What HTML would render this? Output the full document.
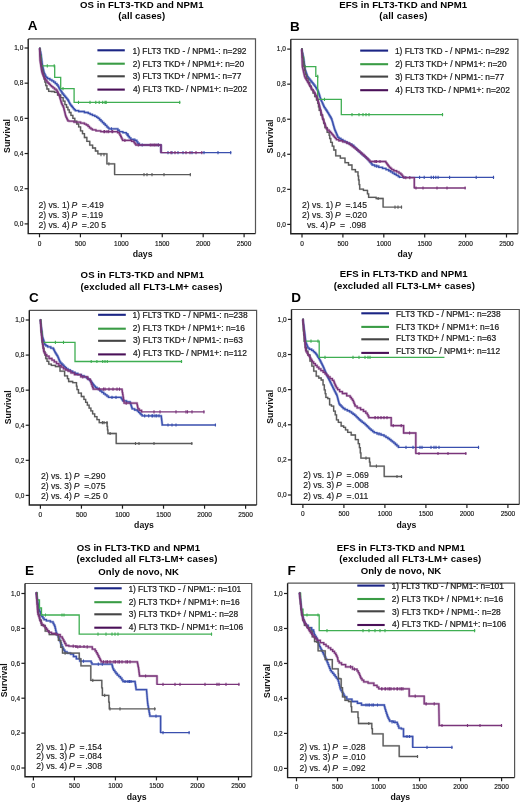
<!DOCTYPE html><html><head><meta charset="utf-8"><style>html,body{margin:0;padding:0;background:#fff;}svg{display:block;will-change:transform;}</style></head><body>
<svg width="520" height="803" viewBox="0 0 520 803" font-family='&quot;Liberation Sans&quot;, sans-serif'>
<rect width="520" height="803" fill="#fff"/>
<g><path d="M39.6 48.5 L39.8 48.5 L39.8 49.2 L40 49.2 L40.12 49.2 L40.12 50.46 L40.36 50.46 L40.36 51.72 L40.6 51.72 L40.6 52.98 L40.84 52.98 L40.84 54.24 L41.08 54.24 L41.08 55.5 L41.2 55.5 L41.27 55.5 L41.27 56.66 L41.41 56.66 L41.41 57.83 L41.54 57.83 L41.54 58.99 L41.68 58.99 L41.68 60.15 L41.82 60.15 L41.82 61.31 L41.96 61.31 L41.96 62.47 L42.09 62.47 L42.09 63.64 L42.23 63.64 L42.23 64.8 L42.3 64.8 L42.43 64.8 L42.43 65.94 L42.69 65.94 L42.69 67.09 L42.94 67.09 L42.94 68.23 L43.2 68.23 L43.2 69.37 L43.46 69.37 L43.46 70.51 L43.71 70.51 L43.71 71.66 L43.97 71.66 L43.97 72.8 L44.1 72.8 L44.39 72.8 L44.39 73.97 L44.96 73.97 L44.96 75.15 L45.54 75.15 L45.54 76.33 L46.11 76.33 L46.11 77.5 L46.4 77.5 L47.55 77.5 L47.55 78.65 L49.85 78.65 L49.85 79.8 L51 79.8 L51.88 79.8 L51.88 80.95 L53.62 80.95 L53.62 82.1 L54.5 82.1 L55.3 82.1 L55.3 83.55 L56.9 83.55 L56.9 85 L57.7 85 L58.05 85 L58.05 86.4 L58.75 86.4 L58.75 87.8 L59.1 87.8 L59.5 87.8 L59.5 89.1 L60.3 89.1 L60.3 90.4 L61.1 90.4 L61.1 91.7 L61.9 91.7 L61.9 93 L62.3 93 L62.78 93 L62.78 94.17 L63.75 94.17 L63.75 95.33 L64.72 95.33 L64.72 96.5 L65.68 96.5 L65.68 97.67 L66.65 97.67 L66.65 98.83 L67.62 98.83 L67.62 100 L68.1 100 L68.42 100 L68.42 101.27 L69.05 101.27 L69.05 102.53 L69.68 102.53 L69.68 103.8 L70 103.8 L70.47 103.8 L70.47 105.03 L71.42 105.03 L71.42 106.25 L72.38 106.25 L72.38 107.47 L73.33 107.47 L73.33 108.7 L73.8 108.7 L74.3 108.7 L74.3 109.65 L75.3 109.65 L75.3 110.6 L75.8 110.6 L78.65 110.6 L78.65 111.5 L81.5 111.5 L84.4 111.5 L84.4 112.5 L87.3 112.5 L88.28 112.5 L88.28 113.45 L90.22 113.45 L90.22 114.4 L91.2 114.4 L92.4 114.4 L92.4 115.35 L94.8 115.35 L94.8 116.3 L96 116.3 L96.7 116.3 L96.7 117.3 L98.1 117.3 L98.1 118.3 L98.8 118.3 L99.53 118.3 L99.53 119.75 L100.97 119.75 L100.97 121.2 L101.7 121.2 L102.42 121.2 L102.42 122.6 L103.88 122.6 L103.88 124 L104.6 124 L105.32 124 L105.32 125.45 L106.78 125.45 L106.78 126.9 L107.5 126.9 L107.97 126.9 L107.97 127.85 L108.93 127.85 L108.93 128.8 L109.4 128.8 L117.1 128.8 L117.82 128.8 L117.82 130.25 L119.28 130.25 L119.28 131.7 L120 131.7 L122.9 131.7 L122.9 132.7 L125.8 132.7 L126.28 132.7 L126.28 133.97 L127.25 133.97 L127.25 135.23 L128.22 135.23 L128.22 136.5 L128.7 136.5 L129.4 136.5 L129.4 137.95 L130.8 137.95 L130.8 139.4 L131.5 139.4 L133.9 139.4 L133.9 140.4 L136.3 140.4 L136.8 140.4 L136.8 141.85 L137.8 141.85 L137.8 143.3 L138.3 143.3 L139.25 143.3 L139.25 145 L140.2 145 L161 145 L161 152.6" fill="none" stroke="#3a4fae" stroke-width="2.6" stroke-opacity="0.35" stroke-linejoin="round"/><path d="M39.6 48.5 L39.8 48.5 L39.8 49.2 L40 49.2 L40.12 49.2 L40.12 50.46 L40.36 50.46 L40.36 51.72 L40.6 51.72 L40.6 52.98 L40.84 52.98 L40.84 54.24 L41.08 54.24 L41.08 55.5 L41.2 55.5 L41.27 55.5 L41.27 56.66 L41.41 56.66 L41.41 57.83 L41.54 57.83 L41.54 58.99 L41.68 58.99 L41.68 60.15 L41.82 60.15 L41.82 61.31 L41.96 61.31 L41.96 62.47 L42.09 62.47 L42.09 63.64 L42.23 63.64 L42.23 64.8 L42.3 64.8 L42.43 64.8 L42.43 65.94 L42.69 65.94 L42.69 67.09 L42.94 67.09 L42.94 68.23 L43.2 68.23 L43.2 69.37 L43.46 69.37 L43.46 70.51 L43.71 70.51 L43.71 71.66 L43.97 71.66 L43.97 72.8 L44.1 72.8 L44.39 72.8 L44.39 73.97 L44.96 73.97 L44.96 75.15 L45.54 75.15 L45.54 76.33 L46.11 76.33 L46.11 77.5 L46.4 77.5 L47.55 77.5 L47.55 78.65 L49.85 78.65 L49.85 79.8 L51 79.8 L51.88 79.8 L51.88 80.95 L53.62 80.95 L53.62 82.1 L54.5 82.1 L55.3 82.1 L55.3 83.55 L56.9 83.55 L56.9 85 L57.7 85 L58.05 85 L58.05 86.4 L58.75 86.4 L58.75 87.8 L59.1 87.8 L59.5 87.8 L59.5 89.1 L60.3 89.1 L60.3 90.4 L61.1 90.4 L61.1 91.7 L61.9 91.7 L61.9 93 L62.3 93 L62.78 93 L62.78 94.17 L63.75 94.17 L63.75 95.33 L64.72 95.33 L64.72 96.5 L65.68 96.5 L65.68 97.67 L66.65 97.67 L66.65 98.83 L67.62 98.83 L67.62 100 L68.1 100 L68.42 100 L68.42 101.27 L69.05 101.27 L69.05 102.53 L69.68 102.53 L69.68 103.8 L70 103.8 L70.47 103.8 L70.47 105.03 L71.42 105.03 L71.42 106.25 L72.38 106.25 L72.38 107.47 L73.33 107.47 L73.33 108.7 L73.8 108.7 L74.3 108.7 L74.3 109.65 L75.3 109.65 L75.3 110.6 L75.8 110.6 L78.65 110.6 L78.65 111.5 L81.5 111.5 L84.4 111.5 L84.4 112.5 L87.3 112.5 L88.28 112.5 L88.28 113.45 L90.22 113.45 L90.22 114.4 L91.2 114.4 L92.4 114.4 L92.4 115.35 L94.8 115.35 L94.8 116.3 L96 116.3 L96.7 116.3 L96.7 117.3 L98.1 117.3 L98.1 118.3 L98.8 118.3 L99.53 118.3 L99.53 119.75 L100.97 119.75 L100.97 121.2 L101.7 121.2 L102.42 121.2 L102.42 122.6 L103.88 122.6 L103.88 124 L104.6 124 L105.32 124 L105.32 125.45 L106.78 125.45 L106.78 126.9 L107.5 126.9 L107.97 126.9 L107.97 127.85 L108.93 127.85 L108.93 128.8 L109.4 128.8 L117.1 128.8 L117.82 128.8 L117.82 130.25 L119.28 130.25 L119.28 131.7 L120 131.7 L122.9 131.7 L122.9 132.7 L125.8 132.7 L126.28 132.7 L126.28 133.97 L127.25 133.97 L127.25 135.23 L128.22 135.23 L128.22 136.5 L128.7 136.5 L129.4 136.5 L129.4 137.95 L130.8 137.95 L130.8 139.4 L131.5 139.4 L133.9 139.4 L133.9 140.4 L136.3 140.4 L136.8 140.4 L136.8 141.85 L137.8 141.85 L137.8 143.3 L138.3 143.3 L139.25 143.3 L139.25 145 L140.2 145 L161 145 L161 152.6 L230.7 152.6" fill="none" stroke="#3a4fae" stroke-width="1.3" stroke-linejoin="miter" stroke-linecap="square"/><path d="M168 151v3.2M172 151v3.2M178 151v3.2M183 151v3.2M192 151v3.2M204 151v3.2M218 151v3.2M230.7 151v3.2M128 132.9v3.2M135 138.4v3.2M111.4 127.2v3.2M142.2 143.4v3.2M158.2 143.4v3.2" stroke="#3a4fae" stroke-width="1.1"/><path d="M39.6 48.5 L40.1 48.5 L40.1 56 L40.6 56 L41.05 56 L41.05 65.9 L41.5 65.9 L54.7 65.9 L54.7 77.3 L60.7 77.3 L60.7 88.6 L74.1 88.6 L74.1 102.4 L179.7 102.4" fill="none" stroke="#3fae52" stroke-width="1.3" stroke-linejoin="miter" stroke-linecap="square"/><path d="M47.3 64.3v3.2M54.2 64.3v3.2M63 87v3.2M78.5 100.8v3.2M90 100.8v3.2M95.8 100.8v3.2M99.2 100.8v3.2M102.7 100.8v3.2M105 100.8v3.2M106.2 100.8v3.2M179.7 100.8v3.2" stroke="#3fae52" stroke-width="1.1"/><path d="M39.6 48.5 L39.78 48.5 L39.78 51.6 L40.15 51.6 L40.15 54.7 L40.52 54.7 L40.52 57.8 L40.88 57.8 L40.88 60.9 L41.25 60.9 L41.25 64 L41.62 64 L41.62 67.1 L41.8 67.1 L42.14 67.1 L42.14 70.1 L42.82 70.1 L42.82 73.1 L43.5 73.1 L43.5 76.1 L44.18 76.1 L44.18 79.1 L44.86 79.1 L44.86 82.1 L45.2 82.1 L45.78 82.1 L45.78 85.55 L46.92 85.55 L46.92 89 L47.5 89 L48.65 89 L48.65 91.3 L49.8 91.3 L51.45 91.3 L51.45 91.5 L53.1 91.5 L54.55 91.5 L54.55 92.3 L56 92.3 L57.58 92.3 L57.58 95 L60.72 95 L60.72 97.7 L62.3 97.7 L63.17 97.7 L63.17 101.15 L64.92 101.15 L64.92 104.6 L65.8 104.6 L66.5 104.6 L66.5 107.23 L67.9 107.23 L67.9 109.87 L69.3 109.87 L69.3 112.5 L70 112.5 L70.95 112.5 L70.95 115.4 L71.9 115.4 L72.85 115.4 L72.85 118.3 L73.8 118.3 L74.8 118.3 L74.8 121.2 L75.8 121.2 L76.75 121.2 L76.75 124 L77.7 124 L78.65 124 L78.65 126.9 L79.6 126.9 L80.55 126.9 L80.55 130.8 L81.5 130.8 L82.5 130.8 L82.5 133.7 L83.5 133.7 L84.45 133.7 L84.45 137.5 L85.4 137.5 L86.85 137.5 L86.85 141.3 L88.3 141.3 L89.75 141.3 L89.75 145.2 L91.2 145.2 L92.6 145.2 L92.6 148 L94 148 L95.45 148 L95.45 151 L96.9 151 L97.85 151 L97.85 153.8 L98.8 153.8 L106.9 153.8 L106.9 163.8 L114.6 163.8 L114.6 174.6" fill="none" stroke="#5a5a5a" stroke-width="2.0" stroke-opacity="0.25" stroke-linejoin="round"/><path d="M39.6 48.5 L39.78 48.5 L39.78 51.6 L40.15 51.6 L40.15 54.7 L40.52 54.7 L40.52 57.8 L40.88 57.8 L40.88 60.9 L41.25 60.9 L41.25 64 L41.62 64 L41.62 67.1 L41.8 67.1 L42.14 67.1 L42.14 70.1 L42.82 70.1 L42.82 73.1 L43.5 73.1 L43.5 76.1 L44.18 76.1 L44.18 79.1 L44.86 79.1 L44.86 82.1 L45.2 82.1 L45.78 82.1 L45.78 85.55 L46.92 85.55 L46.92 89 L47.5 89 L48.65 89 L48.65 91.3 L49.8 91.3 L51.45 91.3 L51.45 91.5 L53.1 91.5 L54.55 91.5 L54.55 92.3 L56 92.3 L57.58 92.3 L57.58 95 L60.72 95 L60.72 97.7 L62.3 97.7 L63.17 97.7 L63.17 101.15 L64.92 101.15 L64.92 104.6 L65.8 104.6 L66.5 104.6 L66.5 107.23 L67.9 107.23 L67.9 109.87 L69.3 109.87 L69.3 112.5 L70 112.5 L70.95 112.5 L70.95 115.4 L71.9 115.4 L72.85 115.4 L72.85 118.3 L73.8 118.3 L74.8 118.3 L74.8 121.2 L75.8 121.2 L76.75 121.2 L76.75 124 L77.7 124 L78.65 124 L78.65 126.9 L79.6 126.9 L80.55 126.9 L80.55 130.8 L81.5 130.8 L82.5 130.8 L82.5 133.7 L83.5 133.7 L84.45 133.7 L84.45 137.5 L85.4 137.5 L86.85 137.5 L86.85 141.3 L88.3 141.3 L89.75 141.3 L89.75 145.2 L91.2 145.2 L92.6 145.2 L92.6 148 L94 148 L95.45 148 L95.45 151 L96.9 151 L97.85 151 L97.85 153.8 L98.8 153.8 L106.9 153.8 L106.9 163.8 L114.6 163.8 L114.6 174.6 L190.3 174.6" fill="none" stroke="#5a5a5a" stroke-width="1.3" stroke-linejoin="miter" stroke-linecap="square"/><path d="M144 173v3.2M147 173v3.2M152 173v3.2M164 173v3.2M190.3 173v3.2M101 153v3.2M104 153v3.2M108.9 162.2v3.2" stroke="#5a5a5a" stroke-width="1.1"/><path d="M39.6 48.5 L39.62 48.5 L39.62 49.65 L39.66 49.65 L39.66 50.8 L39.7 50.8 L39.7 51.95 L39.74 51.95 L39.74 53.1 L39.78 53.1 L39.78 54.25 L39.82 54.25 L39.82 55.4 L39.86 55.4 L39.86 56.55 L39.9 56.55 L39.9 57.7 L39.94 57.7 L39.94 58.85 L39.98 58.85 L39.98 60 L40 60 L40.09 60 L40.09 61.17 L40.27 61.17 L40.27 62.34 L40.45 62.34 L40.45 63.51 L40.63 63.51 L40.63 64.68 L40.81 64.68 L40.81 65.85 L40.99 65.85 L40.99 67.02 L41.17 67.02 L41.17 68.19 L41.35 68.19 L41.35 69.36 L41.53 69.36 L41.53 70.53 L41.71 70.53 L41.71 71.7 L41.8 71.7 L42.03 71.7 L42.03 72.86 L42.49 72.86 L42.49 74.02 L42.95 74.02 L42.95 75.18 L43.41 75.18 L43.41 76.34 L43.87 76.34 L43.87 77.5 L44.1 77.5 L44.52 77.5 L44.52 78.65 L45.38 78.65 L45.38 79.8 L46.23 79.8 L46.23 80.95 L47.08 80.95 L47.08 82.1 L47.5 82.1 L48.09 82.1 L48.09 83.25 L49.26 83.25 L49.26 84.4 L50.44 84.4 L50.44 85.55 L51.61 85.55 L51.61 86.7 L52.2 86.7 L52.97 86.7 L52.97 87.87 L54.5 87.87 L54.5 89.03 L56.03 89.03 L56.03 90.2 L56.8 90.2 L57.09 90.2 L57.09 91.35 L57.66 91.35 L57.66 92.5 L58.24 92.5 L58.24 93.65 L58.81 93.65 L58.81 94.8 L59.1 94.8 L59.26 94.8 L59.26 95.94 L59.59 95.94 L59.59 97.09 L59.92 97.09 L59.92 98.23 L60.25 98.23 L60.25 99.37 L60.58 99.37 L60.58 100.51 L60.91 100.51 L60.91 101.66 L61.24 101.66 L61.24 102.8 L61.4 102.8 L61.75 102.8 L61.75 104.17 L62.45 104.17 L62.45 105.53 L63.15 105.53 L63.15 106.9 L63.5 106.9 L63.64 106.9 L63.64 108.06 L63.93 108.06 L63.93 109.23 L64.22 109.23 L64.22 110.39 L64.51 110.39 L64.51 111.55 L64.79 111.55 L64.79 112.71 L65.08 112.71 L65.08 113.88 L65.37 113.88 L65.37 115.04 L65.66 115.04 L65.66 116.2 L65.8 116.2 L66.09 116.2 L66.09 117.35 L66.66 117.35 L66.66 118.5 L67.24 118.5 L67.24 119.65 L67.81 119.65 L67.81 120.8 L68.1 120.8 L69.05 120.8 L69.05 121.2 L70 121.2 L73.85 121.2 L73.85 122.1 L77.7 122.1 L80.6 122.1 L80.6 123.1 L83.5 123.1 L84.45 123.1 L84.45 124.05 L86.35 124.05 L86.35 125 L87.3 125 L88.03 125 L88.03 126.45 L89.47 126.45 L89.47 127.9 L90.2 127.9 L90.92 127.9 L90.92 128.85 L92.38 128.85 L92.38 129.8 L93.1 129.8 L95.95 129.8 L95.95 130.8 L98.8 130.8 L100.75 130.8 L100.75 131.7 L102.7 131.7 L116.2 131.7 L117.6 131.7 L117.6 132.7 L119 132.7 L119.33 132.7 L119.33 133.97 L120 133.97 L120 135.23 L120.67 135.23 L120.67 136.5 L121 136.5 L121.32 136.5 L121.32 137.8 L121.95 137.8 L121.95 139.1 L122.58 139.1 L122.58 140.4 L122.9 140.4 L129.6 140.4 L131.55 140.4 L131.55 141.3 L133.5 141.3 L133.97 141.3 L133.97 142.53 L134.9 142.53 L134.9 143.77 L135.83 143.77 L135.83 145 L136.3 145 L161 145 L161 152.6" fill="none" stroke="#7a347a" stroke-width="2.6" stroke-opacity="0.35" stroke-linejoin="round"/><path d="M39.6 48.5 L39.62 48.5 L39.62 49.65 L39.66 49.65 L39.66 50.8 L39.7 50.8 L39.7 51.95 L39.74 51.95 L39.74 53.1 L39.78 53.1 L39.78 54.25 L39.82 54.25 L39.82 55.4 L39.86 55.4 L39.86 56.55 L39.9 56.55 L39.9 57.7 L39.94 57.7 L39.94 58.85 L39.98 58.85 L39.98 60 L40 60 L40.09 60 L40.09 61.17 L40.27 61.17 L40.27 62.34 L40.45 62.34 L40.45 63.51 L40.63 63.51 L40.63 64.68 L40.81 64.68 L40.81 65.85 L40.99 65.85 L40.99 67.02 L41.17 67.02 L41.17 68.19 L41.35 68.19 L41.35 69.36 L41.53 69.36 L41.53 70.53 L41.71 70.53 L41.71 71.7 L41.8 71.7 L42.03 71.7 L42.03 72.86 L42.49 72.86 L42.49 74.02 L42.95 74.02 L42.95 75.18 L43.41 75.18 L43.41 76.34 L43.87 76.34 L43.87 77.5 L44.1 77.5 L44.52 77.5 L44.52 78.65 L45.38 78.65 L45.38 79.8 L46.23 79.8 L46.23 80.95 L47.08 80.95 L47.08 82.1 L47.5 82.1 L48.09 82.1 L48.09 83.25 L49.26 83.25 L49.26 84.4 L50.44 84.4 L50.44 85.55 L51.61 85.55 L51.61 86.7 L52.2 86.7 L52.97 86.7 L52.97 87.87 L54.5 87.87 L54.5 89.03 L56.03 89.03 L56.03 90.2 L56.8 90.2 L57.09 90.2 L57.09 91.35 L57.66 91.35 L57.66 92.5 L58.24 92.5 L58.24 93.65 L58.81 93.65 L58.81 94.8 L59.1 94.8 L59.26 94.8 L59.26 95.94 L59.59 95.94 L59.59 97.09 L59.92 97.09 L59.92 98.23 L60.25 98.23 L60.25 99.37 L60.58 99.37 L60.58 100.51 L60.91 100.51 L60.91 101.66 L61.24 101.66 L61.24 102.8 L61.4 102.8 L61.75 102.8 L61.75 104.17 L62.45 104.17 L62.45 105.53 L63.15 105.53 L63.15 106.9 L63.5 106.9 L63.64 106.9 L63.64 108.06 L63.93 108.06 L63.93 109.23 L64.22 109.23 L64.22 110.39 L64.51 110.39 L64.51 111.55 L64.79 111.55 L64.79 112.71 L65.08 112.71 L65.08 113.88 L65.37 113.88 L65.37 115.04 L65.66 115.04 L65.66 116.2 L65.8 116.2 L66.09 116.2 L66.09 117.35 L66.66 117.35 L66.66 118.5 L67.24 118.5 L67.24 119.65 L67.81 119.65 L67.81 120.8 L68.1 120.8 L69.05 120.8 L69.05 121.2 L70 121.2 L73.85 121.2 L73.85 122.1 L77.7 122.1 L80.6 122.1 L80.6 123.1 L83.5 123.1 L84.45 123.1 L84.45 124.05 L86.35 124.05 L86.35 125 L87.3 125 L88.03 125 L88.03 126.45 L89.47 126.45 L89.47 127.9 L90.2 127.9 L90.92 127.9 L90.92 128.85 L92.38 128.85 L92.38 129.8 L93.1 129.8 L95.95 129.8 L95.95 130.8 L98.8 130.8 L100.75 130.8 L100.75 131.7 L102.7 131.7 L116.2 131.7 L117.6 131.7 L117.6 132.7 L119 132.7 L119.33 132.7 L119.33 133.97 L120 133.97 L120 135.23 L120.67 135.23 L120.67 136.5 L121 136.5 L121.32 136.5 L121.32 137.8 L121.95 137.8 L121.95 139.1 L122.58 139.1 L122.58 140.4 L122.9 140.4 L129.6 140.4 L131.55 140.4 L131.55 141.3 L133.5 141.3 L133.97 141.3 L133.97 142.53 L134.9 142.53 L134.9 143.77 L135.83 143.77 L135.83 145 L136.3 145 L161 145 L161 152.6 L201.8 152.6" fill="none" stroke="#7a347a" stroke-width="1.3" stroke-linejoin="miter" stroke-linecap="square"/><path d="M104 130.1v3.2M107 130.1v3.2M112 130.1v3.2M171 151v3.2M175 151v3.2M186 151v3.2M190 151v3.2M196 151v3.2M201.8 151v3.2M152 143.4v3.2M154 143.4v3.2M156 143.4v3.2M104.7 130.1v3.2M108.7 130.1v3.2M112.7 130.1v3.2M124.9 138.8v3.2M138.3 143.4v3.2M150.3 143.4v3.2M154.3 143.4v3.2M158.3 143.4v3.2" stroke="#7a347a" stroke-width="1.1"/><path d="M28.2 38.9 H255.5 V233.6" fill="none" stroke="#555" stroke-width="1.2"/><path d="M28.2 38.9 V233.6 H255.5" fill="none" stroke="#1e1e1e" stroke-width="1.4"/><path d="M24.6 48 H28.2" stroke="#1e1e1e" stroke-width="1.2"/><text x="23.3" y="50.3" font-size="6.5" text-anchor="end" fill="#111" stroke="#111" stroke-width="0.15">1,0</text><path d="M24.6 83.18 H28.2" stroke="#1e1e1e" stroke-width="1.2"/><text x="23.3" y="85.48" font-size="6.5" text-anchor="end" fill="#111" stroke="#111" stroke-width="0.15">0,8</text><path d="M24.6 118.36 H28.2" stroke="#1e1e1e" stroke-width="1.2"/><text x="23.3" y="120.66" font-size="6.5" text-anchor="end" fill="#111" stroke="#111" stroke-width="0.15">0,6</text><path d="M24.6 153.54 H28.2" stroke="#1e1e1e" stroke-width="1.2"/><text x="23.3" y="155.84" font-size="6.5" text-anchor="end" fill="#111" stroke="#111" stroke-width="0.15">0,4</text><path d="M24.6 188.72 H28.2" stroke="#1e1e1e" stroke-width="1.2"/><text x="23.3" y="191.02" font-size="6.5" text-anchor="end" fill="#111" stroke="#111" stroke-width="0.15">0,2</text><path d="M24.6 223.9 H28.2" stroke="#1e1e1e" stroke-width="1.2"/><text x="23.3" y="226.2" font-size="6.5" text-anchor="end" fill="#111" stroke="#111" stroke-width="0.15">0,0</text><path d="M39.5 233.6 V237.3" stroke="#1e1e1e" stroke-width="1.2"/><text x="39.5" y="245.5" font-size="6.5" text-anchor="middle" fill="#111" stroke="#111" stroke-width="0.15">0</text><path d="M80.42 233.6 V237.3" stroke="#1e1e1e" stroke-width="1.2"/><text x="80.42" y="245.5" font-size="6.5" text-anchor="middle" fill="#111" stroke="#111" stroke-width="0.15">500</text><path d="M121.34 233.6 V237.3" stroke="#1e1e1e" stroke-width="1.2"/><text x="121.34" y="245.5" font-size="6.5" text-anchor="middle" fill="#111" stroke="#111" stroke-width="0.15">1000</text><path d="M162.26 233.6 V237.3" stroke="#1e1e1e" stroke-width="1.2"/><text x="162.26" y="245.5" font-size="6.5" text-anchor="middle" fill="#111" stroke="#111" stroke-width="0.15">1500</text><path d="M203.18 233.6 V237.3" stroke="#1e1e1e" stroke-width="1.2"/><text x="203.18" y="245.5" font-size="6.5" text-anchor="middle" fill="#111" stroke="#111" stroke-width="0.15">2000</text><path d="M244.1 233.6 V237.3" stroke="#1e1e1e" stroke-width="1.2"/><text x="244.1" y="245.5" font-size="6.5" text-anchor="middle" fill="#111" stroke="#111" stroke-width="0.15">2500</text><text x="27.7" y="30" font-size="13.5" font-weight="bold" fill="#000">A</text><text x="79.97" y="7.6" font-size="9.6" font-weight="bold" textLength="123.51" lengthAdjust="spacing" fill="#000">OS in FLT3-TKD and NPM1</text><text x="118.37" y="18.7" font-size="9.6" font-weight="bold" textLength="46.73" lengthAdjust="spacing" fill="#000">(all cases)</text><path d="M97.4 50.3 H124.8" stroke="#1b2585" stroke-width="2.1"/><text x="132.52" y="53.9" font-size="8.4" textLength="113.97" lengthAdjust="spacing" fill="#1a1a1a" stroke="#1a1a1a" stroke-width="0.22">1) FLT3 TKD - / NPM1-: n=292</text><path d="M97.4 63.7 H124.8" stroke="#3a9c45" stroke-width="2.1"/><text x="132.73" y="66.6" font-size="8.4" textLength="111.35" lengthAdjust="spacing" fill="#1a1a1a" stroke="#1a1a1a" stroke-width="0.22">2) FLT3 TKD+ / NPM1+: n=20</text><path d="M97.4 76.3 H124.8" stroke="#454545" stroke-width="2.1"/><text x="132.81" y="79.2" font-size="8.4" textLength="108.55" lengthAdjust="spacing" fill="#1a1a1a" stroke="#1a1a1a" stroke-width="0.22">3) FLT3 TKD+ / NPM1-: n=77</text><path d="M97.4 89.6 H124.8" stroke="#4a1058" stroke-width="2.1"/><text x="132.94" y="92" font-size="8.4" textLength="114.23" lengthAdjust="spacing" fill="#1a1a1a" stroke="#1a1a1a" stroke-width="0.22">4) FLT3 TKD- / NPM1+: n=202</text><text y="208.1" font-size="8.6" fill="#1a1a1a" stroke="#1a1a1a" stroke-width="0.15" xml:space="preserve"><tspan x="38.5">2) vs. 1)</tspan><tspan x="71.4" font-style="italic">P</tspan><tspan x="81.8">=</tspan><tspan x="87">.419</tspan></text><text y="217.9" font-size="8.6" fill="#1a1a1a" stroke="#1a1a1a" stroke-width="0.15" xml:space="preserve"><tspan x="38.5">2) vs. 3)</tspan><tspan x="71.4" font-style="italic">P</tspan><tspan x="81.8">=</tspan><tspan x="87">.119</tspan></text><text y="228.1" font-size="8.6" fill="#1a1a1a" stroke="#1a1a1a" stroke-width="0.15" xml:space="preserve"><tspan x="38.5">2) vs. 4)</tspan><tspan x="71.4" font-style="italic">P</tspan><tspan x="81.8">=</tspan><tspan x="87">.20 5</tspan></text><text transform="translate(10.3 136) rotate(-90)" font-size="8.7" font-weight="bold" text-anchor="middle" fill="#111">Survival</text><text x="132.7" y="257.3" font-size="8.7" font-weight="bold" fill="#111">days</text></g>
<g><path d="M301.7 49.2 L301.83 49.2 L301.83 50.48 L302.09 50.48 L302.09 51.75 L302.36 51.75 L302.36 53.02 L302.62 53.02 L302.62 54.3 L302.88 54.3 L302.88 55.58 L303.14 55.58 L303.14 56.85 L303.41 56.85 L303.41 58.12 L303.67 58.12 L303.67 59.4 L303.8 59.4 L303.88 59.4 L303.88 60.58 L304.03 60.58 L304.03 61.76 L304.19 61.76 L304.19 62.93 L304.34 62.93 L304.34 64.11 L304.5 64.11 L304.5 65.29 L304.66 65.29 L304.66 66.47 L304.81 66.47 L304.81 67.64 L304.97 67.64 L304.97 68.82 L305.12 68.82 L305.12 70 L305.2 70 L305.4 70 L305.4 71.12 L305.8 71.12 L305.8 72.23 L306.2 72.23 L306.2 73.35 L306.6 73.35 L306.6 74.47 L307 74.47 L307 75.58 L307.4 75.58 L307.4 76.7 L307.6 76.7 L308.09 76.7 L308.09 77.9 L309.06 77.9 L309.06 79.1 L310.04 79.1 L310.04 80.3 L311.01 80.3 L311.01 81.5 L311.5 81.5 L311.98 81.5 L311.98 82.7 L312.93 82.7 L312.93 83.9 L313.88 83.9 L313.88 85.1 L314.82 85.1 L314.82 86.3 L315.3 86.3 L315.66 86.3 L315.66 87.53 L316.39 87.53 L316.39 88.75 L317.11 88.75 L317.11 89.97 L317.84 89.97 L317.84 91.2 L318.2 91.2 L318.4 91.2 L318.4 92.47 L318.8 92.47 L318.8 93.73 L319.2 93.73 L319.2 95 L319.6 95 L319.6 96.27 L320 96.27 L320 97.53 L320.4 97.53 L320.4 98.8 L320.6 98.8 L320.88 98.8 L320.88 100.08 L321.45 100.08 L321.45 101.37 L322.02 101.37 L322.02 102.65 L322.58 102.65 L322.58 103.93 L323.15 103.93 L323.15 105.22 L323.72 105.22 L323.72 106.5 L324 106.5 L324.38 106.5 L324.38 107.66 L325.14 107.66 L325.14 108.82 L325.9 108.82 L325.9 109.98 L326.66 109.98 L326.66 111.14 L327.42 111.14 L327.42 112.3 L327.8 112.3 L328.12 112.3 L328.12 113.42 L328.77 113.42 L328.77 114.53 L329.43 114.53 L329.43 115.65 L330.07 115.65 L330.07 116.77 L330.73 116.77 L330.73 117.88 L331.38 117.88 L331.38 119 L331.7 119 L331.88 119 L331.88 120.28 L332.24 120.28 L332.24 121.55 L332.61 121.55 L332.61 122.82 L332.97 122.82 L332.97 124.1 L333.33 124.1 L333.33 125.38 L333.69 125.38 L333.69 126.65 L334.06 126.65 L334.06 127.92 L334.42 127.92 L334.42 129.2 L334.6 129.2 L334.85 129.2 L334.85 130.36 L335.35 130.36 L335.35 131.51 L335.85 131.51 L335.85 132.67 L336.35 132.67 L336.35 133.83 L336.85 133.83 L336.85 134.99 L337.35 134.99 L337.35 136.14 L337.85 136.14 L337.85 137.3 L338.1 137.3 L339.05 137.3 L339.05 138.47 L340.95 138.47 L340.95 139.63 L342.85 139.63 L342.85 140.8 L343.8 140.8 L344.96 140.8 L344.96 141.95 L347.29 141.95 L347.29 143.1 L349.61 143.1 L349.61 144.25 L351.94 144.25 L351.94 145.4 L353.1 145.4 L353.68 145.4 L353.68 146.55 L354.83 146.55 L354.83 147.7 L355.98 147.7 L355.98 148.85 L357.12 148.85 L357.12 150 L358.27 150 L358.27 151.15 L359.43 151.15 L359.43 152.3 L360 152.3 L360.69 152.3 L360.69 153.46 L362.07 153.46 L362.07 154.62 L363.45 154.62 L363.45 155.78 L364.83 155.78 L364.83 156.94 L366.21 156.94 L366.21 158.1 L366.9 158.1 L367.38 158.1 L367.38 159.25 L368.35 159.25 L368.35 160.4 L369.32 160.4 L369.32 161.55 L370.28 161.55 L370.28 162.7 L371.25 162.7 L371.25 163.85 L372.22 163.85 L372.22 165 L372.7 165 L374.73 165 L374.73 166.15 L378.77 166.15 L378.77 167.3 L380.8 167.3 L382.52 167.3 L382.52 168.45 L385.98 168.45 L385.98 169.6 L387.7 169.6 L388.67 169.6 L388.67 170.77 L390.6 170.77 L390.6 171.93 L392.53 171.93 L392.53 173.1 L393.5 173.1 L394.45 173.1 L394.45 174.23 L396.35 174.23 L396.35 175.37 L398.25 175.37 L398.25 176.5 L399.2 176.5 L399.6 176.5 L399.6 177.3 L400 177.3" fill="none" stroke="#3a4fae" stroke-width="2.6" stroke-opacity="0.35" stroke-linejoin="round"/><path d="M301.7 49.2 L301.83 49.2 L301.83 50.48 L302.09 50.48 L302.09 51.75 L302.36 51.75 L302.36 53.02 L302.62 53.02 L302.62 54.3 L302.88 54.3 L302.88 55.58 L303.14 55.58 L303.14 56.85 L303.41 56.85 L303.41 58.12 L303.67 58.12 L303.67 59.4 L303.8 59.4 L303.88 59.4 L303.88 60.58 L304.03 60.58 L304.03 61.76 L304.19 61.76 L304.19 62.93 L304.34 62.93 L304.34 64.11 L304.5 64.11 L304.5 65.29 L304.66 65.29 L304.66 66.47 L304.81 66.47 L304.81 67.64 L304.97 67.64 L304.97 68.82 L305.12 68.82 L305.12 70 L305.2 70 L305.4 70 L305.4 71.12 L305.8 71.12 L305.8 72.23 L306.2 72.23 L306.2 73.35 L306.6 73.35 L306.6 74.47 L307 74.47 L307 75.58 L307.4 75.58 L307.4 76.7 L307.6 76.7 L308.09 76.7 L308.09 77.9 L309.06 77.9 L309.06 79.1 L310.04 79.1 L310.04 80.3 L311.01 80.3 L311.01 81.5 L311.5 81.5 L311.98 81.5 L311.98 82.7 L312.93 82.7 L312.93 83.9 L313.88 83.9 L313.88 85.1 L314.82 85.1 L314.82 86.3 L315.3 86.3 L315.66 86.3 L315.66 87.53 L316.39 87.53 L316.39 88.75 L317.11 88.75 L317.11 89.97 L317.84 89.97 L317.84 91.2 L318.2 91.2 L318.4 91.2 L318.4 92.47 L318.8 92.47 L318.8 93.73 L319.2 93.73 L319.2 95 L319.6 95 L319.6 96.27 L320 96.27 L320 97.53 L320.4 97.53 L320.4 98.8 L320.6 98.8 L320.88 98.8 L320.88 100.08 L321.45 100.08 L321.45 101.37 L322.02 101.37 L322.02 102.65 L322.58 102.65 L322.58 103.93 L323.15 103.93 L323.15 105.22 L323.72 105.22 L323.72 106.5 L324 106.5 L324.38 106.5 L324.38 107.66 L325.14 107.66 L325.14 108.82 L325.9 108.82 L325.9 109.98 L326.66 109.98 L326.66 111.14 L327.42 111.14 L327.42 112.3 L327.8 112.3 L328.12 112.3 L328.12 113.42 L328.77 113.42 L328.77 114.53 L329.43 114.53 L329.43 115.65 L330.07 115.65 L330.07 116.77 L330.73 116.77 L330.73 117.88 L331.38 117.88 L331.38 119 L331.7 119 L331.88 119 L331.88 120.28 L332.24 120.28 L332.24 121.55 L332.61 121.55 L332.61 122.82 L332.97 122.82 L332.97 124.1 L333.33 124.1 L333.33 125.38 L333.69 125.38 L333.69 126.65 L334.06 126.65 L334.06 127.92 L334.42 127.92 L334.42 129.2 L334.6 129.2 L334.85 129.2 L334.85 130.36 L335.35 130.36 L335.35 131.51 L335.85 131.51 L335.85 132.67 L336.35 132.67 L336.35 133.83 L336.85 133.83 L336.85 134.99 L337.35 134.99 L337.35 136.14 L337.85 136.14 L337.85 137.3 L338.1 137.3 L339.05 137.3 L339.05 138.47 L340.95 138.47 L340.95 139.63 L342.85 139.63 L342.85 140.8 L343.8 140.8 L344.96 140.8 L344.96 141.95 L347.29 141.95 L347.29 143.1 L349.61 143.1 L349.61 144.25 L351.94 144.25 L351.94 145.4 L353.1 145.4 L353.68 145.4 L353.68 146.55 L354.83 146.55 L354.83 147.7 L355.98 147.7 L355.98 148.85 L357.12 148.85 L357.12 150 L358.27 150 L358.27 151.15 L359.43 151.15 L359.43 152.3 L360 152.3 L360.69 152.3 L360.69 153.46 L362.07 153.46 L362.07 154.62 L363.45 154.62 L363.45 155.78 L364.83 155.78 L364.83 156.94 L366.21 156.94 L366.21 158.1 L366.9 158.1 L367.38 158.1 L367.38 159.25 L368.35 159.25 L368.35 160.4 L369.32 160.4 L369.32 161.55 L370.28 161.55 L370.28 162.7 L371.25 162.7 L371.25 163.85 L372.22 163.85 L372.22 165 L372.7 165 L374.73 165 L374.73 166.15 L378.77 166.15 L378.77 167.3 L380.8 167.3 L382.52 167.3 L382.52 168.45 L385.98 168.45 L385.98 169.6 L387.7 169.6 L388.67 169.6 L388.67 170.77 L390.6 170.77 L390.6 171.93 L392.53 171.93 L392.53 173.1 L393.5 173.1 L394.45 173.1 L394.45 174.23 L396.35 174.23 L396.35 175.37 L398.25 175.37 L398.25 176.5 L399.2 176.5 L399.6 176.5 L399.6 177.3 L400 177.3 L493.5 177.3" fill="none" stroke="#3a4fae" stroke-width="1.3" stroke-linejoin="miter" stroke-linecap="square"/><path d="M404 175.7v3.2M419.6 175.7v3.2M424.2 175.7v3.2M431.2 175.7v3.2M433.5 175.7v3.2M435.8 175.7v3.2M438.1 175.7v3.2M449.6 175.7v3.2M476.2 175.7v3.2M493.5 175.7v3.2M376.73 164.55v3.2" stroke="#3a4fae" stroke-width="1.1"/><path d="M301.8 48.8 L302.2 48.8 L302.2 57 L302.6 57 L303.6 57 L303.6 66.6 L304.6 66.6 L315.8 66.6 L315.8 76.3 L317.7 76.3 L317.7 99.3 L341.3 99.3 L341.3 114.7 L442.5 114.7" fill="none" stroke="#3fae52" stroke-width="1.3" stroke-linejoin="miter" stroke-linecap="square"/><path d="M305 65v3.2M317.7 74.7v3.2M324.5 97.7v3.2M352 113.1v3.2M359 113.1v3.2M363 113.1v3.2M366 113.1v3.2M369 113.1v3.2M442.5 113.1v3.2" stroke="#3fae52" stroke-width="1.1"/><path d="M301.7 49.2 L302 49.2 L302 53.47 L302.6 53.47 L302.6 57.73 L303.2 57.73 L303.2 62 L303.5 62 L303.88 62 L303.88 66.2 L304.65 66.2 L304.65 70.4 L305.42 70.4 L305.42 74.6 L305.8 74.6 L306.58 74.6 L306.58 78.47 L308.15 78.47 L308.15 82.33 L309.72 82.33 L309.72 86.2 L310.5 86.2 L311.35 86.2 L311.35 89.65 L313.05 89.65 L313.05 93.1 L313.9 93.1 L314.77 93.1 L314.77 96.55 L316.52 96.55 L316.52 100 L317.4 100 L317.77 100 L317.77 103.47 L318.5 103.47 L318.5 106.93 L319.23 106.93 L319.23 110.4 L319.6 110.4 L320.8 110.4 L320.8 115 L322 115 L322.58 115 L322.58 119.23 L323.75 119.23 L323.75 123.47 L324.92 123.47 L324.92 127.7 L325.5 127.7 L327.2 127.7 L327.2 132.3 L328.9 132.3 L329.17 132.3 L329.17 135.4 L329.73 135.4 L329.73 138.5 L330 138.5 L330.77 138.5 L330.77 142.33 L332.3 142.33 L332.3 146.17 L333.83 146.17 L333.83 150 L334.6 150 L335.75 150 L335.75 155.8 L336.9 155.8 L340.35 155.8 L340.35 158.1 L343.8 158.1 L345 158.1 L345 162.7 L346.2 162.7 L348.5 162.7 L348.5 165 L350.8 165 L351.95 165 L351.95 169.6 L353.1 169.6 L355.4 169.6 L355.4 171.9 L357.7 171.9 L357.98 171.9 L357.98 175.95 L358.52 175.95 L358.52 180 L358.8 180 L359.1 180 L359.1 184.6 L359.7 184.6 L359.7 189.2 L360 189.2 L363.45 189.2 L363.45 190.4 L366.9 190.4 L367.47 190.4 L367.47 193.85 L368.62 193.85 L368.62 197.3 L369.2 197.3 L376.15 197.3 L376.15 198.5 L383.1 198.5 L383.1 207.2" fill="none" stroke="#5a5a5a" stroke-width="2.0" stroke-opacity="0.25" stroke-linejoin="round"/><path d="M301.7 49.2 L302 49.2 L302 53.47 L302.6 53.47 L302.6 57.73 L303.2 57.73 L303.2 62 L303.5 62 L303.88 62 L303.88 66.2 L304.65 66.2 L304.65 70.4 L305.42 70.4 L305.42 74.6 L305.8 74.6 L306.58 74.6 L306.58 78.47 L308.15 78.47 L308.15 82.33 L309.72 82.33 L309.72 86.2 L310.5 86.2 L311.35 86.2 L311.35 89.65 L313.05 89.65 L313.05 93.1 L313.9 93.1 L314.77 93.1 L314.77 96.55 L316.52 96.55 L316.52 100 L317.4 100 L317.77 100 L317.77 103.47 L318.5 103.47 L318.5 106.93 L319.23 106.93 L319.23 110.4 L319.6 110.4 L320.8 110.4 L320.8 115 L322 115 L322.58 115 L322.58 119.23 L323.75 119.23 L323.75 123.47 L324.92 123.47 L324.92 127.7 L325.5 127.7 L327.2 127.7 L327.2 132.3 L328.9 132.3 L329.17 132.3 L329.17 135.4 L329.73 135.4 L329.73 138.5 L330 138.5 L330.77 138.5 L330.77 142.33 L332.3 142.33 L332.3 146.17 L333.83 146.17 L333.83 150 L334.6 150 L335.75 150 L335.75 155.8 L336.9 155.8 L340.35 155.8 L340.35 158.1 L343.8 158.1 L345 158.1 L345 162.7 L346.2 162.7 L348.5 162.7 L348.5 165 L350.8 165 L351.95 165 L351.95 169.6 L353.1 169.6 L355.4 169.6 L355.4 171.9 L357.7 171.9 L357.98 171.9 L357.98 175.95 L358.52 175.95 L358.52 180 L358.8 180 L359.1 180 L359.1 184.6 L359.7 184.6 L359.7 189.2 L360 189.2 L363.45 189.2 L363.45 190.4 L366.9 190.4 L367.47 190.4 L367.47 193.85 L368.62 193.85 L368.62 197.3 L369.2 197.3 L376.15 197.3 L376.15 198.5 L383.1 198.5 L383.1 207.2 L401.5 207.2" fill="none" stroke="#5a5a5a" stroke-width="1.3" stroke-linejoin="miter" stroke-linecap="square"/><path d="M395 205.6v3.2M398 205.6v3.2M401.5 205.6v3.2M378.15 196.9v3.2" stroke="#5a5a5a" stroke-width="1.1"/><path d="M301.7 49.2 L301.72 49.2 L301.72 50.41 L301.76 50.41 L301.76 51.63 L301.81 51.63 L301.81 52.84 L301.85 52.84 L301.85 54.06 L301.89 54.06 L301.89 55.27 L301.94 55.27 L301.94 56.49 L301.98 56.49 L301.98 57.7 L302.02 57.7 L302.02 58.91 L302.06 58.91 L302.06 60.13 L302.11 60.13 L302.11 61.34 L302.15 61.34 L302.15 62.56 L302.19 62.56 L302.19 63.77 L302.24 63.77 L302.24 64.99 L302.28 64.99 L302.28 66.2 L302.3 66.2 L302.43 66.2 L302.43 67.37 L302.7 67.37 L302.7 68.53 L302.97 68.53 L302.97 69.7 L303.23 69.7 L303.23 70.87 L303.5 70.87 L303.5 72.03 L303.77 72.03 L303.77 73.2 L304.03 73.2 L304.03 74.37 L304.3 74.37 L304.3 75.53 L304.57 75.53 L304.57 76.7 L304.7 76.7 L305.06 76.7 L305.06 77.9 L305.79 77.9 L305.79 79.1 L306.51 79.1 L306.51 80.3 L307.24 80.3 L307.24 81.5 L307.6 81.5 L307.93 81.5 L307.93 82.63 L308.58 82.63 L308.58 83.77 L309.23 83.77 L309.23 84.9 L309.88 84.9 L309.88 86.03 L310.52 86.03 L310.52 87.17 L311.18 87.17 L311.18 88.3 L311.5 88.3 L311.97 88.3 L311.97 89.57 L312.9 89.57 L312.9 90.83 L313.83 90.83 L313.83 92.1 L314.3 92.1 L314.59 92.1 L314.59 93.26 L315.17 93.26 L315.17 94.42 L315.75 94.42 L315.75 95.58 L316.33 95.58 L316.33 96.74 L316.91 96.74 L316.91 97.9 L317.2 97.9 L317.37 97.9 L317.37 99.02 L317.7 99.02 L317.7 100.13 L318.03 100.13 L318.03 101.25 L318.37 101.25 L318.37 102.37 L318.7 102.37 L318.7 103.48 L319.03 103.48 L319.03 104.6 L319.2 104.6 L319.36 104.6 L319.36 105.88 L319.68 105.88 L319.68 107.17 L319.99 107.17 L319.99 108.45 L320.31 108.45 L320.31 109.73 L320.62 109.73 L320.62 111.02 L320.94 111.02 L320.94 112.3 L321.1 112.3 L321.26 112.3 L321.26 113.42 L321.58 113.42 L321.58 114.53 L321.89 114.53 L321.89 115.65 L322.21 115.65 L322.21 116.77 L322.52 116.77 L322.52 117.88 L322.84 117.88 L322.84 119 L323 119 L323.23 119 L323.23 120.22 L323.68 120.22 L323.68 121.45 L324.12 121.45 L324.12 122.68 L324.57 122.68 L324.57 123.9 L325.03 123.9 L325.03 125.12 L325.48 125.12 L325.48 126.35 L325.93 126.35 L325.93 127.58 L326.38 127.58 L326.38 128.8 L326.6 128.8 L327.45 128.8 L327.45 130.15 L329.15 130.15 L329.15 131.5 L330 131.5 L330.49 131.5 L330.49 132.66 L331.48 132.66 L331.48 133.81 L332.46 133.81 L332.46 134.97 L333.45 134.97 L333.45 136.13 L334.44 136.13 L334.44 137.29 L335.42 137.29 L335.42 138.44 L336.41 138.44 L336.41 139.6 L336.9 139.6 L338.83 139.6 L338.83 140.77 L342.7 140.77 L342.7 141.93 L346.57 141.93 L346.57 143.1 L348.5 143.1 L349.27 143.1 L349.27 144.25 L350.8 144.25 L350.8 145.4 L352.33 145.4 L352.33 146.55 L353.87 146.55 L353.87 147.7 L355.4 147.7 L355.4 148.85 L356.93 148.85 L356.93 150 L357.7 150 L358.39 150 L358.39 151.16 L359.77 151.16 L359.77 152.32 L361.15 152.32 L361.15 153.48 L362.53 153.48 L362.53 154.64 L363.91 154.64 L363.91 155.8 L364.6 155.8 L365.18 155.8 L365.18 156.94 L366.34 156.94 L366.34 158.08 L367.5 158.08 L367.5 159.22 L368.66 159.22 L368.66 160.36 L369.82 160.36 L369.82 161.5 L370.4 161.5 L385.4 161.5 L385.82 161.5 L385.82 162.68 L386.68 162.68 L386.68 163.85 L387.52 163.85 L387.52 165.02 L388.38 165.02 L388.38 166.2 L388.8 166.2 L389.38 166.2 L389.38 167.33 L390.55 167.33 L390.55 168.47 L391.72 168.47 L391.72 169.6 L392.3 169.6 L393.75 169.6 L393.75 170.75 L396.65 170.75 L396.65 171.9 L398.1 171.9 L398.95 171.9 L398.95 173.05 L400.65 173.05 L400.65 174.2 L401.5 174.2 L401.88 174.2 L401.88 175.37 L402.65 175.37 L402.65 176.53 L403.42 176.53 L403.42 177.7 L403.8 177.7 L414.3 177.7 L414.3 188" fill="none" stroke="#7a347a" stroke-width="2.6" stroke-opacity="0.35" stroke-linejoin="round"/><path d="M301.7 49.2 L301.72 49.2 L301.72 50.41 L301.76 50.41 L301.76 51.63 L301.81 51.63 L301.81 52.84 L301.85 52.84 L301.85 54.06 L301.89 54.06 L301.89 55.27 L301.94 55.27 L301.94 56.49 L301.98 56.49 L301.98 57.7 L302.02 57.7 L302.02 58.91 L302.06 58.91 L302.06 60.13 L302.11 60.13 L302.11 61.34 L302.15 61.34 L302.15 62.56 L302.19 62.56 L302.19 63.77 L302.24 63.77 L302.24 64.99 L302.28 64.99 L302.28 66.2 L302.3 66.2 L302.43 66.2 L302.43 67.37 L302.7 67.37 L302.7 68.53 L302.97 68.53 L302.97 69.7 L303.23 69.7 L303.23 70.87 L303.5 70.87 L303.5 72.03 L303.77 72.03 L303.77 73.2 L304.03 73.2 L304.03 74.37 L304.3 74.37 L304.3 75.53 L304.57 75.53 L304.57 76.7 L304.7 76.7 L305.06 76.7 L305.06 77.9 L305.79 77.9 L305.79 79.1 L306.51 79.1 L306.51 80.3 L307.24 80.3 L307.24 81.5 L307.6 81.5 L307.93 81.5 L307.93 82.63 L308.58 82.63 L308.58 83.77 L309.23 83.77 L309.23 84.9 L309.88 84.9 L309.88 86.03 L310.52 86.03 L310.52 87.17 L311.18 87.17 L311.18 88.3 L311.5 88.3 L311.97 88.3 L311.97 89.57 L312.9 89.57 L312.9 90.83 L313.83 90.83 L313.83 92.1 L314.3 92.1 L314.59 92.1 L314.59 93.26 L315.17 93.26 L315.17 94.42 L315.75 94.42 L315.75 95.58 L316.33 95.58 L316.33 96.74 L316.91 96.74 L316.91 97.9 L317.2 97.9 L317.37 97.9 L317.37 99.02 L317.7 99.02 L317.7 100.13 L318.03 100.13 L318.03 101.25 L318.37 101.25 L318.37 102.37 L318.7 102.37 L318.7 103.48 L319.03 103.48 L319.03 104.6 L319.2 104.6 L319.36 104.6 L319.36 105.88 L319.68 105.88 L319.68 107.17 L319.99 107.17 L319.99 108.45 L320.31 108.45 L320.31 109.73 L320.62 109.73 L320.62 111.02 L320.94 111.02 L320.94 112.3 L321.1 112.3 L321.26 112.3 L321.26 113.42 L321.58 113.42 L321.58 114.53 L321.89 114.53 L321.89 115.65 L322.21 115.65 L322.21 116.77 L322.52 116.77 L322.52 117.88 L322.84 117.88 L322.84 119 L323 119 L323.23 119 L323.23 120.22 L323.68 120.22 L323.68 121.45 L324.12 121.45 L324.12 122.68 L324.57 122.68 L324.57 123.9 L325.03 123.9 L325.03 125.12 L325.48 125.12 L325.48 126.35 L325.93 126.35 L325.93 127.58 L326.38 127.58 L326.38 128.8 L326.6 128.8 L327.45 128.8 L327.45 130.15 L329.15 130.15 L329.15 131.5 L330 131.5 L330.49 131.5 L330.49 132.66 L331.48 132.66 L331.48 133.81 L332.46 133.81 L332.46 134.97 L333.45 134.97 L333.45 136.13 L334.44 136.13 L334.44 137.29 L335.42 137.29 L335.42 138.44 L336.41 138.44 L336.41 139.6 L336.9 139.6 L338.83 139.6 L338.83 140.77 L342.7 140.77 L342.7 141.93 L346.57 141.93 L346.57 143.1 L348.5 143.1 L349.27 143.1 L349.27 144.25 L350.8 144.25 L350.8 145.4 L352.33 145.4 L352.33 146.55 L353.87 146.55 L353.87 147.7 L355.4 147.7 L355.4 148.85 L356.93 148.85 L356.93 150 L357.7 150 L358.39 150 L358.39 151.16 L359.77 151.16 L359.77 152.32 L361.15 152.32 L361.15 153.48 L362.53 153.48 L362.53 154.64 L363.91 154.64 L363.91 155.8 L364.6 155.8 L365.18 155.8 L365.18 156.94 L366.34 156.94 L366.34 158.08 L367.5 158.08 L367.5 159.22 L368.66 159.22 L368.66 160.36 L369.82 160.36 L369.82 161.5 L370.4 161.5 L385.4 161.5 L385.82 161.5 L385.82 162.68 L386.68 162.68 L386.68 163.85 L387.52 163.85 L387.52 165.02 L388.38 165.02 L388.38 166.2 L388.8 166.2 L389.38 166.2 L389.38 167.33 L390.55 167.33 L390.55 168.47 L391.72 168.47 L391.72 169.6 L392.3 169.6 L393.75 169.6 L393.75 170.75 L396.65 170.75 L396.65 171.9 L398.1 171.9 L398.95 171.9 L398.95 173.05 L400.65 173.05 L400.65 174.2 L401.5 174.2 L401.88 174.2 L401.88 175.37 L402.65 175.37 L402.65 176.53 L403.42 176.53 L403.42 177.7 L403.8 177.7 L414.3 177.7 L414.3 188 L465.1 188" fill="none" stroke="#7a347a" stroke-width="1.3" stroke-linejoin="miter" stroke-linecap="square"/><path d="M416 186.4v3.2M423 186.4v3.2M437 186.4v3.2M447 186.4v3.2M465.1 186.4v3.2M375 159.9v3.2M380 159.9v3.2M376.4 159.9v3.2M405.8 176.1v3.2M409.8 176.1v3.2" stroke="#7a347a" stroke-width="1.1"/><path d="M290.8 39.3 H517.9 V233.8" fill="none" stroke="#555" stroke-width="1.2"/><path d="M290.8 39.3 V233.8 H517.9" fill="none" stroke="#1e1e1e" stroke-width="1.4"/><path d="M287.2 49.1 H290.8" stroke="#1e1e1e" stroke-width="1.2"/><text x="285.9" y="51.4" font-size="6.5" text-anchor="end" fill="#111" stroke="#111" stroke-width="0.15">1,0</text><path d="M287.2 84.16 H290.8" stroke="#1e1e1e" stroke-width="1.2"/><text x="285.9" y="86.46" font-size="6.5" text-anchor="end" fill="#111" stroke="#111" stroke-width="0.15">0,8</text><path d="M287.2 119.22 H290.8" stroke="#1e1e1e" stroke-width="1.2"/><text x="285.9" y="121.52" font-size="6.5" text-anchor="end" fill="#111" stroke="#111" stroke-width="0.15">0,6</text><path d="M287.2 154.28 H290.8" stroke="#1e1e1e" stroke-width="1.2"/><text x="285.9" y="156.58" font-size="6.5" text-anchor="end" fill="#111" stroke="#111" stroke-width="0.15">0,4</text><path d="M287.2 189.34 H290.8" stroke="#1e1e1e" stroke-width="1.2"/><text x="285.9" y="191.64" font-size="6.5" text-anchor="end" fill="#111" stroke="#111" stroke-width="0.15">0,2</text><path d="M287.2 224.4 H290.8" stroke="#1e1e1e" stroke-width="1.2"/><text x="285.9" y="226.7" font-size="6.5" text-anchor="end" fill="#111" stroke="#111" stroke-width="0.15">0,0</text><path d="M302 233.8 V237.5" stroke="#1e1e1e" stroke-width="1.2"/><text x="302" y="245.7" font-size="6.5" text-anchor="middle" fill="#111" stroke="#111" stroke-width="0.15">0</text><path d="M342.9 233.8 V237.5" stroke="#1e1e1e" stroke-width="1.2"/><text x="342.9" y="245.7" font-size="6.5" text-anchor="middle" fill="#111" stroke="#111" stroke-width="0.15">500</text><path d="M383.8 233.8 V237.5" stroke="#1e1e1e" stroke-width="1.2"/><text x="383.8" y="245.7" font-size="6.5" text-anchor="middle" fill="#111" stroke="#111" stroke-width="0.15">1000</text><path d="M424.7 233.8 V237.5" stroke="#1e1e1e" stroke-width="1.2"/><text x="424.7" y="245.7" font-size="6.5" text-anchor="middle" fill="#111" stroke="#111" stroke-width="0.15">1500</text><path d="M465.6 233.8 V237.5" stroke="#1e1e1e" stroke-width="1.2"/><text x="465.6" y="245.7" font-size="6.5" text-anchor="middle" fill="#111" stroke="#111" stroke-width="0.15">2000</text><path d="M506.5 233.8 V237.5" stroke="#1e1e1e" stroke-width="1.2"/><text x="506.5" y="245.7" font-size="6.5" text-anchor="middle" fill="#111" stroke="#111" stroke-width="0.15">2500</text><text x="290" y="31" font-size="13.5" font-weight="bold" fill="#000">B</text><text x="339.23" y="7.6" font-size="9.6" font-weight="bold" textLength="127.95" lengthAdjust="spacing" fill="#000">EFS in FLT3-TKD and NPM1</text><text x="379.37" y="18.7" font-size="9.6" font-weight="bold" textLength="48.03" lengthAdjust="spacing" fill="#000">(all cases)</text><path d="M360.2 50.6 H388.1" stroke="#1b2585" stroke-width="2.1"/><text x="394.92" y="54.4" font-size="8.4" textLength="114.17" lengthAdjust="spacing" fill="#1a1a1a" stroke="#1a1a1a" stroke-width="0.22">1) FLT3 TKD - / NPM1-: n=292</text><path d="M360.2 64.2 H388.1" stroke="#3a9c45" stroke-width="2.1"/><text x="395.13" y="67.1" font-size="8.4" textLength="111.55" lengthAdjust="spacing" fill="#1a1a1a" stroke="#1a1a1a" stroke-width="0.22">2) FLT3 TKD+ / NPM1+: n=20</text><path d="M360.2 76.6 H388.1" stroke="#454545" stroke-width="2.1"/><text x="395.21" y="79.8" font-size="8.4" textLength="108.95" lengthAdjust="spacing" fill="#1a1a1a" stroke="#1a1a1a" stroke-width="0.22">3) FLT3 TKD+ / NPM1-: n=77</text><path d="M360.2 90.2 H388.1" stroke="#4a1058" stroke-width="2.1"/><text x="395.34" y="93.3" font-size="8.4" textLength="114.53" lengthAdjust="spacing" fill="#1a1a1a" stroke="#1a1a1a" stroke-width="0.22">4) FLT3 TKD- / NPM1+: n=202</text><text y="208.1" font-size="8.6" fill="#1a1a1a" stroke="#1a1a1a" stroke-width="0.15" xml:space="preserve"><tspan x="302.1">2) vs. 1)</tspan><tspan x="335" font-style="italic">P</tspan><tspan x="345.4">=</tspan><tspan x="350.2">.145</tspan></text><text y="217.8" font-size="8.6" fill="#1a1a1a" stroke="#1a1a1a" stroke-width="0.15" xml:space="preserve"><tspan x="302.1">2) vs. 3)</tspan><tspan x="335" font-style="italic">P</tspan><tspan x="345.4">=</tspan><tspan x="350.2">.020</tspan></text><text y="228.1" font-size="8.6" fill="#1a1a1a" stroke="#1a1a1a" stroke-width="0.15" xml:space="preserve"><tspan x="307">vs. 4)</tspan><tspan x="329.6" font-style="italic">P</tspan><tspan x="339.9">=</tspan><tspan x="349.3">.098</tspan></text><text transform="translate(272.9 136.5) rotate(-90)" font-size="8.7" font-weight="bold" text-anchor="middle" fill="#111">Survival</text><text x="397.5" y="257.3" font-size="8.7" font-weight="bold" fill="#111">day</text></g>
<g><path d="M40.4 320 L40.48 320 L40.48 321.21 L40.64 321.21 L40.64 322.43 L40.79 322.43 L40.79 323.64 L40.95 323.64 L40.95 324.86 L41.11 324.86 L41.11 326.07 L41.26 326.07 L41.26 327.29 L41.42 327.29 L41.42 328.5 L41.5 328.5 L41.58 328.5 L41.58 329.65 L41.73 329.65 L41.73 330.8 L41.88 330.8 L41.88 331.95 L42.02 331.95 L42.02 333.1 L42.18 333.1 L42.18 334.25 L42.33 334.25 L42.33 335.4 L42.48 335.4 L42.48 336.55 L42.62 336.55 L42.62 337.7 L42.7 337.7 L42.89 337.7 L42.89 338.85 L43.28 338.85 L43.28 340 L43.66 340 L43.66 341.15 L44.04 341.15 L44.04 342.3 L44.42 342.3 L44.42 343.45 L44.81 343.45 L44.81 344.6 L45 344.6 L45.88 344.6 L45.88 345.75 L47.62 345.75 L47.62 346.9 L48.5 346.9 L50.8 346.9 L50.8 348.1 L53.1 348.1 L53.39 348.1 L53.39 349.25 L53.96 349.25 L53.96 350.4 L54.54 350.4 L54.54 351.55 L55.11 351.55 L55.11 352.7 L55.4 352.7 L55.78 352.7 L55.78 353.87 L56.55 353.87 L56.55 355.03 L57.32 355.03 L57.32 356.2 L57.7 356.2 L57.93 356.2 L57.93 357.34 L58.39 357.34 L58.39 358.48 L58.85 358.48 L58.85 359.62 L59.31 359.62 L59.31 360.76 L59.77 360.76 L59.77 361.9 L60 361.9 L60.58 361.9 L60.58 363.07 L61.75 363.07 L61.75 364.23 L62.92 364.23 L62.92 365.4 L63.5 365.4 L64.07 365.4 L64.07 366.53 L65.2 366.53 L65.2 367.67 L66.33 367.67 L66.33 368.8 L66.9 368.8 L68.05 368.8 L68.05 370 L70.35 370 L70.35 371.2 L71.5 371.2 L72.67 371.2 L72.67 372.35 L75.03 372.35 L75.03 373.5 L76.2 373.5 L77.92 373.5 L77.92 374.65 L81.38 374.65 L81.38 375.8 L83.1 375.8 L84.25 375.8 L84.25 376.95 L86.55 376.95 L86.55 378.1 L87.7 378.1 L88.28 378.1 L88.28 379.23 L89.45 379.23 L89.45 380.37 L90.62 380.37 L90.62 381.5 L91.2 381.5 L91.62 381.5 L91.62 382.68 L92.47 382.68 L92.47 383.85 L93.33 383.85 L93.33 385.02 L94.17 385.02 L94.17 386.2 L94.6 386.2 L95.37 386.2 L95.37 387.33 L96.9 387.33 L96.9 388.47 L98.43 388.47 L98.43 389.6 L99.2 389.6 L100.1 389.6 L100.1 391 L101.9 391 L101.9 392.4 L103.7 392.4 L103.7 393.8 L104.6 393.8 L105.37 393.8 L105.37 394.97 L106.9 394.97 L106.9 396.13 L108.43 396.13 L108.43 397.3 L109.2 397.3 L120.8 397.3 L121.18 397.3 L121.18 398.47 L121.95 398.47 L121.95 399.63 L122.72 399.63 L122.72 400.8 L123.1 400.8 L126.55 400.8 L126.55 401.9 L130 401.9 L130.19 401.9 L130.19 403.05 L130.57 403.05 L130.57 404.2 L130.96 404.2 L130.96 405.35 L131.34 405.35 L131.34 406.5 L131.73 406.5 L131.73 407.65 L132.11 407.65 L132.11 408.8 L132.3 408.8 L134.6 408.8 L134.6 410 L136.9 410 L137.48 410 L137.48 411.17 L138.65 411.17 L138.65 412.33 L139.82 412.33 L139.82 413.5 L140.4 413.5 L140.97 413.5 L140.97 414.65 L142.12 414.65 L142.12 415.8 L142.7 415.8 L161.2 415.8 L161.27 415.8 L161.27 416.95 L161.41 416.95 L161.41 418.1 L161.54 418.1 L161.54 419.25 L161.68 419.25 L161.68 420.4 L161.82 420.4 L161.82 421.55 L161.96 421.55 L161.96 422.7 L162.09 422.7 L162.09 423.85 L162.23 423.85 L162.23 425 L162.3 425" fill="none" stroke="#3a4fae" stroke-width="2.6" stroke-opacity="0.35" stroke-linejoin="round"/><path d="M40.4 320 L40.48 320 L40.48 321.21 L40.64 321.21 L40.64 322.43 L40.79 322.43 L40.79 323.64 L40.95 323.64 L40.95 324.86 L41.11 324.86 L41.11 326.07 L41.26 326.07 L41.26 327.29 L41.42 327.29 L41.42 328.5 L41.5 328.5 L41.58 328.5 L41.58 329.65 L41.73 329.65 L41.73 330.8 L41.88 330.8 L41.88 331.95 L42.02 331.95 L42.02 333.1 L42.18 333.1 L42.18 334.25 L42.33 334.25 L42.33 335.4 L42.48 335.4 L42.48 336.55 L42.62 336.55 L42.62 337.7 L42.7 337.7 L42.89 337.7 L42.89 338.85 L43.28 338.85 L43.28 340 L43.66 340 L43.66 341.15 L44.04 341.15 L44.04 342.3 L44.42 342.3 L44.42 343.45 L44.81 343.45 L44.81 344.6 L45 344.6 L45.88 344.6 L45.88 345.75 L47.62 345.75 L47.62 346.9 L48.5 346.9 L50.8 346.9 L50.8 348.1 L53.1 348.1 L53.39 348.1 L53.39 349.25 L53.96 349.25 L53.96 350.4 L54.54 350.4 L54.54 351.55 L55.11 351.55 L55.11 352.7 L55.4 352.7 L55.78 352.7 L55.78 353.87 L56.55 353.87 L56.55 355.03 L57.32 355.03 L57.32 356.2 L57.7 356.2 L57.93 356.2 L57.93 357.34 L58.39 357.34 L58.39 358.48 L58.85 358.48 L58.85 359.62 L59.31 359.62 L59.31 360.76 L59.77 360.76 L59.77 361.9 L60 361.9 L60.58 361.9 L60.58 363.07 L61.75 363.07 L61.75 364.23 L62.92 364.23 L62.92 365.4 L63.5 365.4 L64.07 365.4 L64.07 366.53 L65.2 366.53 L65.2 367.67 L66.33 367.67 L66.33 368.8 L66.9 368.8 L68.05 368.8 L68.05 370 L70.35 370 L70.35 371.2 L71.5 371.2 L72.67 371.2 L72.67 372.35 L75.03 372.35 L75.03 373.5 L76.2 373.5 L77.92 373.5 L77.92 374.65 L81.38 374.65 L81.38 375.8 L83.1 375.8 L84.25 375.8 L84.25 376.95 L86.55 376.95 L86.55 378.1 L87.7 378.1 L88.28 378.1 L88.28 379.23 L89.45 379.23 L89.45 380.37 L90.62 380.37 L90.62 381.5 L91.2 381.5 L91.62 381.5 L91.62 382.68 L92.47 382.68 L92.47 383.85 L93.33 383.85 L93.33 385.02 L94.17 385.02 L94.17 386.2 L94.6 386.2 L95.37 386.2 L95.37 387.33 L96.9 387.33 L96.9 388.47 L98.43 388.47 L98.43 389.6 L99.2 389.6 L100.1 389.6 L100.1 391 L101.9 391 L101.9 392.4 L103.7 392.4 L103.7 393.8 L104.6 393.8 L105.37 393.8 L105.37 394.97 L106.9 394.97 L106.9 396.13 L108.43 396.13 L108.43 397.3 L109.2 397.3 L120.8 397.3 L121.18 397.3 L121.18 398.47 L121.95 398.47 L121.95 399.63 L122.72 399.63 L122.72 400.8 L123.1 400.8 L126.55 400.8 L126.55 401.9 L130 401.9 L130.19 401.9 L130.19 403.05 L130.57 403.05 L130.57 404.2 L130.96 404.2 L130.96 405.35 L131.34 405.35 L131.34 406.5 L131.73 406.5 L131.73 407.65 L132.11 407.65 L132.11 408.8 L132.3 408.8 L134.6 408.8 L134.6 410 L136.9 410 L137.48 410 L137.48 411.17 L138.65 411.17 L138.65 412.33 L139.82 412.33 L139.82 413.5 L140.4 413.5 L140.97 413.5 L140.97 414.65 L142.12 414.65 L142.12 415.8 L142.7 415.8 L161.2 415.8 L161.27 415.8 L161.27 416.95 L161.41 416.95 L161.41 418.1 L161.54 418.1 L161.54 419.25 L161.68 419.25 L161.68 420.4 L161.82 420.4 L161.82 421.55 L161.96 421.55 L161.96 422.7 L162.09 422.7 L162.09 423.85 L162.23 423.85 L162.23 425 L162.3 425 L215.4 425" fill="none" stroke="#3a4fae" stroke-width="1.3" stroke-linejoin="miter" stroke-linecap="square"/><path d="M152 414.2v3.2M155 414.2v3.2M159 414.2v3.2M168 423.4v3.2M172 423.4v3.2M176 423.4v3.2M215.4 423.4v3.2M112 395.7v3.2M116 395.7v3.2M144.7 414.2v3.2M148.7 414.2v3.2M152.7 414.2v3.2M156.7 414.2v3.2" stroke="#3a4fae" stroke-width="1.1"/><path d="M40.4 320 L40.95 320 L40.95 332 L41.5 332 L42.1 332 L42.1 342.3 L42.7 342.3 L75 342.3 L75 361.5 L181.5 361.5" fill="none" stroke="#3fae52" stroke-width="1.3" stroke-linejoin="miter" stroke-linecap="square"/><path d="M55.4 340.7v3.2M63.5 340.7v3.2M91.2 359.9v3.2M96.9 359.9v3.2M102.7 359.9v3.2M105 359.9v3.2M107.3 359.9v3.2M181.5 359.9v3.2" stroke="#3fae52" stroke-width="1.1"/><path d="M40.4 320 L40.56 320 L40.56 323.51 L40.89 323.51 L40.89 327.03 L41.22 327.03 L41.22 330.54 L41.55 330.54 L41.55 334.06 L41.88 334.06 L41.88 337.57 L42.21 337.57 L42.21 341.09 L42.54 341.09 L42.54 344.6 L42.7 344.6 L43.14 344.6 L43.14 348.08 L44.01 348.08 L44.01 351.55 L44.89 351.55 L44.89 355.02 L45.76 355.02 L45.76 358.5 L46.2 358.5 L47.05 358.5 L47.05 361.35 L48.75 361.35 L48.75 364.2 L49.6 364.2 L51.35 364.2 L51.35 365.4 L53.1 365.4 L55.4 365.4 L55.4 366.5 L57.7 366.5 L60 366.5 L60 371.2 L62.3 371.2 L64.6 371.2 L64.6 375.8 L66.9 375.8 L67.48 375.8 L67.48 378.65 L68.62 378.65 L68.62 381.5 L69.2 381.5 L72.7 381.5 L72.7 382.7 L76.2 382.7 L76.47 382.7 L76.47 386.15 L77.03 386.15 L77.03 389.6 L77.3 389.6 L78.45 389.6 L78.45 393.1 L79.6 393.1 L81.35 393.1 L81.35 396.5 L83.1 396.5 L83.95 396.5 L83.95 399.4 L85.65 399.4 L85.65 402.3 L86.5 402.3 L87.38 402.3 L87.38 405.2 L89.12 405.2 L89.12 408.1 L90 408.1 L90.88 408.1 L90.88 410.95 L92.62 410.95 L92.62 413.8 L93.5 413.8 L94.65 413.8 L94.65 416.7 L96.95 416.7 L96.95 419.6 L98.1 419.6 L99.25 419.6 L99.25 422.7 L100.4 422.7 L106.9 422.7 L107.1 422.7 L107.1 426.3 L107.5 426.3 L107.5 429.9 L107.9 429.9 L107.9 433.5 L108.1 433.5 L116.2 433.5 L116.2 443.5" fill="none" stroke="#5a5a5a" stroke-width="2.0" stroke-opacity="0.25" stroke-linejoin="round"/><path d="M40.4 320 L40.56 320 L40.56 323.51 L40.89 323.51 L40.89 327.03 L41.22 327.03 L41.22 330.54 L41.55 330.54 L41.55 334.06 L41.88 334.06 L41.88 337.57 L42.21 337.57 L42.21 341.09 L42.54 341.09 L42.54 344.6 L42.7 344.6 L43.14 344.6 L43.14 348.08 L44.01 348.08 L44.01 351.55 L44.89 351.55 L44.89 355.02 L45.76 355.02 L45.76 358.5 L46.2 358.5 L47.05 358.5 L47.05 361.35 L48.75 361.35 L48.75 364.2 L49.6 364.2 L51.35 364.2 L51.35 365.4 L53.1 365.4 L55.4 365.4 L55.4 366.5 L57.7 366.5 L60 366.5 L60 371.2 L62.3 371.2 L64.6 371.2 L64.6 375.8 L66.9 375.8 L67.48 375.8 L67.48 378.65 L68.62 378.65 L68.62 381.5 L69.2 381.5 L72.7 381.5 L72.7 382.7 L76.2 382.7 L76.47 382.7 L76.47 386.15 L77.03 386.15 L77.03 389.6 L77.3 389.6 L78.45 389.6 L78.45 393.1 L79.6 393.1 L81.35 393.1 L81.35 396.5 L83.1 396.5 L83.95 396.5 L83.95 399.4 L85.65 399.4 L85.65 402.3 L86.5 402.3 L87.38 402.3 L87.38 405.2 L89.12 405.2 L89.12 408.1 L90 408.1 L90.88 408.1 L90.88 410.95 L92.62 410.95 L92.62 413.8 L93.5 413.8 L94.65 413.8 L94.65 416.7 L96.95 416.7 L96.95 419.6 L98.1 419.6 L99.25 419.6 L99.25 422.7 L100.4 422.7 L106.9 422.7 L107.1 422.7 L107.1 426.3 L107.5 426.3 L107.5 429.9 L107.9 429.9 L107.9 433.5 L108.1 433.5 L116.2 433.5 L116.2 443.5 L191.8 443.5" fill="none" stroke="#5a5a5a" stroke-width="1.3" stroke-linejoin="miter" stroke-linecap="square"/><path d="M135.5 441.9v3.2M139 441.9v3.2M154 441.9v3.2M191.8 441.9v3.2M104 421.1v3.2M107 421.1v3.2M102.4 421.1v3.2M110.1 431.9v3.2" stroke="#5a5a5a" stroke-width="1.1"/><path d="M40.4 320 L40.45 320 L40.45 321.54 L40.56 321.54 L40.56 323.08 L40.67 323.08 L40.67 324.62 L40.78 324.62 L40.78 326.16 L40.89 326.16 L40.89 327.7 L41.01 327.7 L41.01 329.24 L41.12 329.24 L41.12 330.78 L41.23 330.78 L41.23 332.32 L41.34 332.32 L41.34 333.86 L41.45 333.86 L41.45 335.4 L41.5 335.4 L41.62 335.4 L41.62 337.01 L41.84 337.01 L41.84 338.62 L42.08 338.62 L42.08 340.23 L42.3 340.23 L42.3 341.84 L42.53 341.84 L42.53 343.45 L42.77 343.45 L42.77 345.06 L42.99 345.06 L42.99 346.67 L43.22 346.67 L43.22 348.28 L43.45 348.28 L43.45 349.89 L43.68 349.89 L43.68 351.5 L43.8 351.5 L44.38 351.5 L44.38 353.07 L45.55 353.07 L45.55 354.63 L46.72 354.63 L46.72 356.2 L47.3 356.2 L49.05 356.2 L49.05 358.5 L50.8 358.5 L51.95 358.5 L51.95 360.2 L54.25 360.2 L54.25 361.9 L55.4 361.9 L56.55 361.9 L56.55 363.65 L58.85 363.65 L58.85 365.4 L60 365.4 L61.15 365.4 L61.15 367.1 L63.45 367.1 L63.45 368.8 L64.6 368.8 L65.75 368.8 L65.75 370 L68.05 370 L68.05 371.2 L69.2 371.2 L70.95 371.2 L70.95 372.9 L74.45 372.9 L74.45 374.6 L76.2 374.6 L80.8 374.6 L80.8 376.9 L85.4 376.9 L87.7 376.9 L87.7 379.2 L90 379.2 L90.29 379.2 L90.29 380.95 L90.86 380.95 L90.86 382.7 L91.44 382.7 L91.44 384.45 L92.01 384.45 L92.01 386.2 L92.3 386.2 L92.6 386.2 L92.6 387.7 L93.2 387.7 L93.2 389.2 L93.5 389.2 L121.9 389.2 L122.05 389.2 L122.05 390.95 L122.35 390.95 L122.35 392.7 L122.65 392.7 L122.65 394.45 L122.95 394.45 L122.95 396.2 L123.1 396.2 L123.24 396.2 L123.24 397.93 L123.51 397.93 L123.51 399.65 L123.79 399.65 L123.79 401.38 L124.06 401.38 L124.06 403.1 L124.2 403.1 L136.9 403.1 L137.05 403.1 L137.05 404.53 L137.35 404.53 L137.35 405.95 L137.65 405.95 L137.65 407.38 L137.95 407.38 L137.95 408.8 L138.1 408.8 L139.25 408.8 L139.25 410.3 L141.55 410.3 L141.55 411.8 L142.7 411.8" fill="none" stroke="#7a347a" stroke-width="2.6" stroke-opacity="0.35" stroke-linejoin="round"/><path d="M40.4 320 L40.45 320 L40.45 321.54 L40.56 321.54 L40.56 323.08 L40.67 323.08 L40.67 324.62 L40.78 324.62 L40.78 326.16 L40.89 326.16 L40.89 327.7 L41.01 327.7 L41.01 329.24 L41.12 329.24 L41.12 330.78 L41.23 330.78 L41.23 332.32 L41.34 332.32 L41.34 333.86 L41.45 333.86 L41.45 335.4 L41.5 335.4 L41.62 335.4 L41.62 337.01 L41.84 337.01 L41.84 338.62 L42.08 338.62 L42.08 340.23 L42.3 340.23 L42.3 341.84 L42.53 341.84 L42.53 343.45 L42.77 343.45 L42.77 345.06 L42.99 345.06 L42.99 346.67 L43.22 346.67 L43.22 348.28 L43.45 348.28 L43.45 349.89 L43.68 349.89 L43.68 351.5 L43.8 351.5 L44.38 351.5 L44.38 353.07 L45.55 353.07 L45.55 354.63 L46.72 354.63 L46.72 356.2 L47.3 356.2 L49.05 356.2 L49.05 358.5 L50.8 358.5 L51.95 358.5 L51.95 360.2 L54.25 360.2 L54.25 361.9 L55.4 361.9 L56.55 361.9 L56.55 363.65 L58.85 363.65 L58.85 365.4 L60 365.4 L61.15 365.4 L61.15 367.1 L63.45 367.1 L63.45 368.8 L64.6 368.8 L65.75 368.8 L65.75 370 L68.05 370 L68.05 371.2 L69.2 371.2 L70.95 371.2 L70.95 372.9 L74.45 372.9 L74.45 374.6 L76.2 374.6 L80.8 374.6 L80.8 376.9 L85.4 376.9 L87.7 376.9 L87.7 379.2 L90 379.2 L90.29 379.2 L90.29 380.95 L90.86 380.95 L90.86 382.7 L91.44 382.7 L91.44 384.45 L92.01 384.45 L92.01 386.2 L92.3 386.2 L92.6 386.2 L92.6 387.7 L93.2 387.7 L93.2 389.2 L93.5 389.2 L121.9 389.2 L122.05 389.2 L122.05 390.95 L122.35 390.95 L122.35 392.7 L122.65 392.7 L122.65 394.45 L122.95 394.45 L122.95 396.2 L123.1 396.2 L123.24 396.2 L123.24 397.93 L123.51 397.93 L123.51 399.65 L123.79 399.65 L123.79 401.38 L124.06 401.38 L124.06 403.1 L124.2 403.1 L136.9 403.1 L137.05 403.1 L137.05 404.53 L137.35 404.53 L137.35 405.95 L137.65 405.95 L137.65 407.38 L137.95 407.38 L137.95 408.8 L138.1 408.8 L139.25 408.8 L139.25 410.3 L141.55 410.3 L141.55 411.8 L142.7 411.8 L203.9 411.8" fill="none" stroke="#7a347a" stroke-width="1.3" stroke-linejoin="miter" stroke-linecap="square"/><path d="M105 387.6v3.2M109 387.6v3.2M113 387.6v3.2M117 387.6v3.2M154 410.2v3.2M160 410.2v3.2M176 410.2v3.2M186 410.2v3.2M187.5 410.2v3.2M192 410.2v3.2M203.9 410.2v3.2M82.8 375.3v3.2M99.5 387.6v3.2M103.5 387.6v3.2M119.5 387.6v3.2M126.2 401.5v3.2" stroke="#7a347a" stroke-width="1.1"/><path d="M29.3 310.3 H256.6 V505" fill="none" stroke="#555" stroke-width="1.2"/><path d="M29.3 310.3 V505 H256.6" fill="none" stroke="#1e1e1e" stroke-width="1.4"/><path d="M25.7 320 H29.3" stroke="#1e1e1e" stroke-width="1.2"/><text x="24.4" y="322.3" font-size="6.5" text-anchor="end" fill="#111" stroke="#111" stroke-width="0.15">1,0</text><path d="M25.7 355.08 H29.3" stroke="#1e1e1e" stroke-width="1.2"/><text x="24.4" y="357.38" font-size="6.5" text-anchor="end" fill="#111" stroke="#111" stroke-width="0.15">0,8</text><path d="M25.7 390.16 H29.3" stroke="#1e1e1e" stroke-width="1.2"/><text x="24.4" y="392.46" font-size="6.5" text-anchor="end" fill="#111" stroke="#111" stroke-width="0.15">0,6</text><path d="M25.7 425.24 H29.3" stroke="#1e1e1e" stroke-width="1.2"/><text x="24.4" y="427.54" font-size="6.5" text-anchor="end" fill="#111" stroke="#111" stroke-width="0.15">0,4</text><path d="M25.7 460.32 H29.3" stroke="#1e1e1e" stroke-width="1.2"/><text x="24.4" y="462.62" font-size="6.5" text-anchor="end" fill="#111" stroke="#111" stroke-width="0.15">0,2</text><path d="M25.7 495.4 H29.3" stroke="#1e1e1e" stroke-width="1.2"/><text x="24.4" y="497.7" font-size="6.5" text-anchor="end" fill="#111" stroke="#111" stroke-width="0.15">0,0</text><path d="M40.4 505 V508.7" stroke="#1e1e1e" stroke-width="1.2"/><text x="40.4" y="516.8" font-size="6.5" text-anchor="middle" fill="#111" stroke="#111" stroke-width="0.15">0</text><path d="M81.44 505 V508.7" stroke="#1e1e1e" stroke-width="1.2"/><text x="81.44" y="516.8" font-size="6.5" text-anchor="middle" fill="#111" stroke="#111" stroke-width="0.15">500</text><path d="M122.48 505 V508.7" stroke="#1e1e1e" stroke-width="1.2"/><text x="122.48" y="516.8" font-size="6.5" text-anchor="middle" fill="#111" stroke="#111" stroke-width="0.15">1000</text><path d="M163.52 505 V508.7" stroke="#1e1e1e" stroke-width="1.2"/><text x="163.52" y="516.8" font-size="6.5" text-anchor="middle" fill="#111" stroke="#111" stroke-width="0.15">1500</text><path d="M204.56 505 V508.7" stroke="#1e1e1e" stroke-width="1.2"/><text x="204.56" y="516.8" font-size="6.5" text-anchor="middle" fill="#111" stroke="#111" stroke-width="0.15">2000</text><path d="M245.6 505 V508.7" stroke="#1e1e1e" stroke-width="1.2"/><text x="245.6" y="516.8" font-size="6.5" text-anchor="middle" fill="#111" stroke="#111" stroke-width="0.15">2500</text><text x="29" y="302.2" font-size="13.5" font-weight="bold" fill="#000">C</text><text x="80.62" y="278.3" font-size="9.6" font-weight="bold" textLength="123.36" lengthAdjust="spacing" fill="#000">OS in FLT3-TKD and NPM1</text><text x="80.52" y="290" font-size="9.6" font-weight="bold" textLength="141.89" lengthAdjust="spacing" fill="#000">(excluded all FLT3-LM+ cases)</text><path d="M98.1 314.8 H125.8" stroke="#1b2585" stroke-width="2.1"/><text x="132.62" y="318.4" font-size="8.4" textLength="115.08" lengthAdjust="spacing" fill="#1a1a1a" stroke="#1a1a1a" stroke-width="0.22">1) FLT3 TKD - / NPM1-: n=238</text><path d="M98.1 328.7 H125.8" stroke="#3a9c45" stroke-width="2.1"/><text x="132.83" y="330.8" font-size="8.4" textLength="112.1" lengthAdjust="spacing" fill="#1a1a1a" stroke="#1a1a1a" stroke-width="0.22">2) FLT3 TKD+ / NPM1+: n=16</text><path d="M98.1 340.8 H125.8" stroke="#454545" stroke-width="2.1"/><text x="132.91" y="343.4" font-size="8.4" textLength="109.9" lengthAdjust="spacing" fill="#1a1a1a" stroke="#1a1a1a" stroke-width="0.22">3) FLT3 TKD+ / NPM1-: n=63</text><path d="M98.1 354.4 H125.8" stroke="#4a1058" stroke-width="2.1"/><text x="133.04" y="355.8" font-size="8.4" textLength="113.94" lengthAdjust="spacing" fill="#1a1a1a" stroke="#1a1a1a" stroke-width="0.22">4) FLT3 TKD- / NPM1+: n=112</text><text y="478.8" font-size="8.6" fill="#1a1a1a" stroke="#1a1a1a" stroke-width="0.15" xml:space="preserve"><tspan x="40.9">2) vs. 1)</tspan><tspan x="73.8" font-style="italic">P</tspan><tspan x="84.2">=</tspan><tspan x="88.7">.290</tspan></text><text y="488.8" font-size="8.6" fill="#1a1a1a" stroke="#1a1a1a" stroke-width="0.15" xml:space="preserve"><tspan x="40.9">2) vs. 3)</tspan><tspan x="73.8" font-style="italic">P</tspan><tspan x="84.2">=</tspan><tspan x="88.7">.075</tspan></text><text y="499.2" font-size="8.6" fill="#1a1a1a" stroke="#1a1a1a" stroke-width="0.15" xml:space="preserve"><tspan x="40.9">2) vs. 4)</tspan><tspan x="73.8" font-style="italic">P</tspan><tspan x="84.2">=</tspan><tspan x="88.7">.25 0</tspan></text><text transform="translate(11.3 407.3) rotate(-90)" font-size="8.7" font-weight="bold" text-anchor="middle" fill="#111">Survival</text><text x="134.1" y="528.3" font-size="8.7" font-weight="bold" fill="#111">days</text></g>
<g><path d="M302.9 319.5 L302.98 319.5 L302.98 320.74 L303.15 320.74 L303.15 321.97 L303.31 321.97 L303.31 323.21 L303.47 323.21 L303.47 324.45 L303.64 324.45 L303.64 325.68 L303.8 325.68 L303.8 326.92 L303.96 326.92 L303.96 328.15 L304.13 328.15 L304.13 329.39 L304.29 329.39 L304.29 330.63 L304.45 330.63 L304.45 331.86 L304.62 331.86 L304.62 333.1 L304.7 333.1 L304.77 333.1 L304.77 334.25 L304.91 334.25 L304.91 335.4 L305.04 335.4 L305.04 336.55 L305.18 336.55 L305.18 337.7 L305.32 337.7 L305.32 338.85 L305.46 338.85 L305.46 340 L305.59 340 L305.59 341.15 L305.73 341.15 L305.73 342.3 L305.8 342.3 L306.04 342.3 L306.04 343.46 L306.52 343.46 L306.52 344.62 L307 344.62 L307 345.78 L307.48 345.78 L307.48 346.94 L307.96 346.94 L307.96 348.1 L308.2 348.1 L309.35 348.1 L309.35 349.25 L311.65 349.25 L311.65 350.4 L312.8 350.4 L313.37 350.4 L313.37 351.53 L314.5 351.53 L314.5 352.67 L315.63 352.67 L315.63 353.8 L316.2 353.8 L316.55 353.8 L316.55 354.96 L317.25 354.96 L317.25 356.12 L317.95 356.12 L317.95 357.28 L318.65 357.28 L318.65 358.44 L319.35 358.44 L319.35 359.6 L319.7 359.6 L319.99 359.6 L319.99 360.75 L320.57 360.75 L320.57 361.9 L321.16 361.9 L321.16 363.05 L321.74 363.05 L321.74 364.2 L322.32 364.2 L322.32 365.35 L322.91 365.35 L322.91 366.5 L323.2 366.5 L323.44 366.5 L323.44 367.66 L323.93 367.66 L323.93 368.81 L324.41 368.81 L324.41 369.97 L324.9 369.97 L324.9 371.13 L325.39 371.13 L325.39 372.29 L325.87 372.29 L325.87 373.44 L326.36 373.44 L326.36 374.6 L326.6 374.6 L326.89 374.6 L326.89 375.75 L327.48 375.75 L327.48 376.9 L328.06 376.9 L328.06 378.05 L328.64 378.05 L328.64 379.2 L329.23 379.2 L329.23 380.35 L329.81 380.35 L329.81 381.5 L330.1 381.5 L330.38 381.5 L330.38 382.67 L330.95 382.67 L330.95 383.83 L331.52 383.83 L331.52 385 L332.08 385 L332.08 386.17 L332.65 386.17 L332.65 387.33 L333.22 387.33 L333.22 388.5 L333.5 388.5 L333.79 388.5 L333.79 389.65 L334.38 389.65 L334.38 390.8 L334.96 390.8 L334.96 391.95 L335.54 391.95 L335.54 393.1 L336.12 393.1 L336.12 394.25 L336.71 394.25 L336.71 395.4 L337 395.4 L337.16 395.4 L337.16 396.6 L337.47 396.6 L337.47 397.8 L337.79 397.8 L337.79 399 L338.1 399 L338.1 400.2 L338.41 400.2 L338.41 401.4 L338.73 401.4 L338.73 402.6 L339.04 402.6 L339.04 403.8 L339.2 403.8 L339.77 403.8 L339.77 404.98 L340.93 404.98 L340.93 406.15 L342.07 406.15 L342.07 407.32 L343.23 407.32 L343.23 408.5 L343.8 408.5 L344.97 408.5 L344.97 409.63 L347.3 409.63 L347.3 410.77 L349.63 410.77 L349.63 411.9 L350.8 411.9 L351.57 411.9 L351.57 413.07 L353.1 413.07 L353.1 414.23 L354.63 414.23 L354.63 415.4 L355.4 415.4 L355.97 415.4 L355.97 416.55 L357.12 416.55 L357.12 417.7 L358.27 417.7 L358.27 418.85 L359.43 418.85 L359.43 420 L360 420 L360.73 420 L360.73 421.15 L362.18 421.15 L362.18 422.3 L363.62 422.3 L363.62 423.45 L365.07 423.45 L365.07 424.6 L365.8 424.6 L366.38 424.6 L366.38 425.75 L367.52 425.75 L367.52 426.9 L368.68 426.9 L368.68 428.05 L369.82 428.05 L369.82 429.2 L370.4 429.2 L371.17 429.2 L371.17 430.37 L372.7 430.37 L372.7 431.53 L374.23 431.53 L374.23 432.7 L375 432.7 L377.02 432.7 L377.02 433.85 L381.08 433.85 L381.08 435 L383.1 435 L384.05 435 L384.05 436.17 L385.95 436.17 L385.95 437.33 L387.85 437.33 L387.85 438.5 L388.8 438.5 L389.53 438.5 L389.53 439.65 L390.98 439.65 L390.98 440.8 L392.43 440.8 L392.43 441.95 L393.88 441.95 L393.88 443.1 L394.6 443.1 L395.37 443.1 L395.37 444.5 L396.9 444.5 L396.9 445.9 L398.43 445.9 L398.43 447.3 L399.2 447.3" fill="none" stroke="#3a4fae" stroke-width="2.6" stroke-opacity="0.35" stroke-linejoin="round"/><path d="M302.9 319.5 L302.98 319.5 L302.98 320.74 L303.15 320.74 L303.15 321.97 L303.31 321.97 L303.31 323.21 L303.47 323.21 L303.47 324.45 L303.64 324.45 L303.64 325.68 L303.8 325.68 L303.8 326.92 L303.96 326.92 L303.96 328.15 L304.13 328.15 L304.13 329.39 L304.29 329.39 L304.29 330.63 L304.45 330.63 L304.45 331.86 L304.62 331.86 L304.62 333.1 L304.7 333.1 L304.77 333.1 L304.77 334.25 L304.91 334.25 L304.91 335.4 L305.04 335.4 L305.04 336.55 L305.18 336.55 L305.18 337.7 L305.32 337.7 L305.32 338.85 L305.46 338.85 L305.46 340 L305.59 340 L305.59 341.15 L305.73 341.15 L305.73 342.3 L305.8 342.3 L306.04 342.3 L306.04 343.46 L306.52 343.46 L306.52 344.62 L307 344.62 L307 345.78 L307.48 345.78 L307.48 346.94 L307.96 346.94 L307.96 348.1 L308.2 348.1 L309.35 348.1 L309.35 349.25 L311.65 349.25 L311.65 350.4 L312.8 350.4 L313.37 350.4 L313.37 351.53 L314.5 351.53 L314.5 352.67 L315.63 352.67 L315.63 353.8 L316.2 353.8 L316.55 353.8 L316.55 354.96 L317.25 354.96 L317.25 356.12 L317.95 356.12 L317.95 357.28 L318.65 357.28 L318.65 358.44 L319.35 358.44 L319.35 359.6 L319.7 359.6 L319.99 359.6 L319.99 360.75 L320.57 360.75 L320.57 361.9 L321.16 361.9 L321.16 363.05 L321.74 363.05 L321.74 364.2 L322.32 364.2 L322.32 365.35 L322.91 365.35 L322.91 366.5 L323.2 366.5 L323.44 366.5 L323.44 367.66 L323.93 367.66 L323.93 368.81 L324.41 368.81 L324.41 369.97 L324.9 369.97 L324.9 371.13 L325.39 371.13 L325.39 372.29 L325.87 372.29 L325.87 373.44 L326.36 373.44 L326.36 374.6 L326.6 374.6 L326.89 374.6 L326.89 375.75 L327.48 375.75 L327.48 376.9 L328.06 376.9 L328.06 378.05 L328.64 378.05 L328.64 379.2 L329.23 379.2 L329.23 380.35 L329.81 380.35 L329.81 381.5 L330.1 381.5 L330.38 381.5 L330.38 382.67 L330.95 382.67 L330.95 383.83 L331.52 383.83 L331.52 385 L332.08 385 L332.08 386.17 L332.65 386.17 L332.65 387.33 L333.22 387.33 L333.22 388.5 L333.5 388.5 L333.79 388.5 L333.79 389.65 L334.38 389.65 L334.38 390.8 L334.96 390.8 L334.96 391.95 L335.54 391.95 L335.54 393.1 L336.12 393.1 L336.12 394.25 L336.71 394.25 L336.71 395.4 L337 395.4 L337.16 395.4 L337.16 396.6 L337.47 396.6 L337.47 397.8 L337.79 397.8 L337.79 399 L338.1 399 L338.1 400.2 L338.41 400.2 L338.41 401.4 L338.73 401.4 L338.73 402.6 L339.04 402.6 L339.04 403.8 L339.2 403.8 L339.77 403.8 L339.77 404.98 L340.93 404.98 L340.93 406.15 L342.07 406.15 L342.07 407.32 L343.23 407.32 L343.23 408.5 L343.8 408.5 L344.97 408.5 L344.97 409.63 L347.3 409.63 L347.3 410.77 L349.63 410.77 L349.63 411.9 L350.8 411.9 L351.57 411.9 L351.57 413.07 L353.1 413.07 L353.1 414.23 L354.63 414.23 L354.63 415.4 L355.4 415.4 L355.97 415.4 L355.97 416.55 L357.12 416.55 L357.12 417.7 L358.27 417.7 L358.27 418.85 L359.43 418.85 L359.43 420 L360 420 L360.73 420 L360.73 421.15 L362.18 421.15 L362.18 422.3 L363.62 422.3 L363.62 423.45 L365.07 423.45 L365.07 424.6 L365.8 424.6 L366.38 424.6 L366.38 425.75 L367.52 425.75 L367.52 426.9 L368.68 426.9 L368.68 428.05 L369.82 428.05 L369.82 429.2 L370.4 429.2 L371.17 429.2 L371.17 430.37 L372.7 430.37 L372.7 431.53 L374.23 431.53 L374.23 432.7 L375 432.7 L377.02 432.7 L377.02 433.85 L381.08 433.85 L381.08 435 L383.1 435 L384.05 435 L384.05 436.17 L385.95 436.17 L385.95 437.33 L387.85 437.33 L387.85 438.5 L388.8 438.5 L389.53 438.5 L389.53 439.65 L390.98 439.65 L390.98 440.8 L392.43 440.8 L392.43 441.95 L393.88 441.95 L393.88 443.1 L394.6 443.1 L395.37 443.1 L395.37 444.5 L396.9 444.5 L396.9 445.9 L398.43 445.9 L398.43 447.3 L399.2 447.3 L478.5 447.3" fill="none" stroke="#3a4fae" stroke-width="1.3" stroke-linejoin="miter" stroke-linecap="square"/><path d="M406 445.7v3.2M413 445.7v3.2M420 445.7v3.2M422 445.7v3.2M431 445.7v3.2M434 445.7v3.2M436 445.7v3.2M439 445.7v3.2M478.5 445.7v3.2M379.02 432.25v3.2" stroke="#3a4fae" stroke-width="1.1"/><path d="M302.9 319.5 L303.35 319.5 L303.35 331 L303.8 331 L304.25 331 L304.25 341.2 L304.7 341.2 L319.2 341.2 L319.2 357.3 L443.8 357.3" fill="none" stroke="#3fae52" stroke-width="1.3" stroke-linejoin="miter" stroke-linecap="square"/><path d="M311 339.6v3.2M318 339.6v3.2M325 355.7v3.2M353 355.7v3.2M359 355.7v3.2M365 355.7v3.2M368 355.7v3.2M370 355.7v3.2" stroke="#3fae52" stroke-width="1.1"/><path d="M302.9 319.5 L303.08 319.5 L303.08 324.67 L303.45 324.67 L303.45 329.83 L303.82 329.83 L303.82 335 L304 335 L304.4 335 L304.4 341.25 L305.2 341.25 L305.2 347.5 L305.6 347.5 L306.38 347.5 L306.38 351.25 L307.93 351.25 L307.93 355 L308.7 355 L309.95 355 L309.95 361.2 L311.2 361.2 L311.85 361.2 L311.85 366.2 L312.5 366.2 L313.75 366.2 L313.75 371.2 L315 371.2 L316.25 371.2 L316.25 376.2 L317.5 376.2 L318.75 376.2 L318.75 378 L320 378 L321.2 378 L321.2 380 L322.4 380 L323.05 380 L323.05 384.9 L323.7 384.9 L324.3 384.9 L324.3 389.9 L324.9 389.9 L325.22 389.9 L325.22 393.65 L325.88 393.65 L325.88 397.4 L326.2 397.4 L327.75 397.4 L327.75 398.6 L329.3 398.6 L329.6 398.6 L329.6 404.8 L329.9 404.8 L331.45 404.8 L331.45 406.1 L333 406.1 L333.65 406.1 L333.65 411.1 L334.3 411.1 L335.25 411.1 L335.25 414.8 L336.2 414.8 L336.5 414.8 L336.5 419.8 L336.8 419.8 L338.35 419.8 L338.35 422.3 L339.9 422.3 L341.15 422.3 L341.15 426 L342.4 426 L343.65 426 L343.65 427.3 L344.9 427.3 L345.5 427.3 L345.5 429.8 L346.1 429.8 L347.7 429.8 L347.7 432.3 L349.3 432.3 L351.2 432.3 L351.2 435 L353.1 435 L355.4 435 L355.4 439.6 L357.7 439.6 L358.27 439.6 L358.27 443.65 L359.43 443.65 L359.43 447.7 L360 447.7 L360.3 447.7 L360.3 452.9 L360.9 452.9 L360.9 458.1 L361.2 458.1 L369.2 458.1 L369.5 458.1 L369.5 462.15 L370.1 462.15 L370.1 466.2 L370.4 466.2 L384.2 466.2 L384.2 476.5" fill="none" stroke="#5a5a5a" stroke-width="2.0" stroke-opacity="0.25" stroke-linejoin="round"/><path d="M302.9 319.5 L303.08 319.5 L303.08 324.67 L303.45 324.67 L303.45 329.83 L303.82 329.83 L303.82 335 L304 335 L304.4 335 L304.4 341.25 L305.2 341.25 L305.2 347.5 L305.6 347.5 L306.38 347.5 L306.38 351.25 L307.93 351.25 L307.93 355 L308.7 355 L309.95 355 L309.95 361.2 L311.2 361.2 L311.85 361.2 L311.85 366.2 L312.5 366.2 L313.75 366.2 L313.75 371.2 L315 371.2 L316.25 371.2 L316.25 376.2 L317.5 376.2 L318.75 376.2 L318.75 378 L320 378 L321.2 378 L321.2 380 L322.4 380 L323.05 380 L323.05 384.9 L323.7 384.9 L324.3 384.9 L324.3 389.9 L324.9 389.9 L325.22 389.9 L325.22 393.65 L325.88 393.65 L325.88 397.4 L326.2 397.4 L327.75 397.4 L327.75 398.6 L329.3 398.6 L329.6 398.6 L329.6 404.8 L329.9 404.8 L331.45 404.8 L331.45 406.1 L333 406.1 L333.65 406.1 L333.65 411.1 L334.3 411.1 L335.25 411.1 L335.25 414.8 L336.2 414.8 L336.5 414.8 L336.5 419.8 L336.8 419.8 L338.35 419.8 L338.35 422.3 L339.9 422.3 L341.15 422.3 L341.15 426 L342.4 426 L343.65 426 L343.65 427.3 L344.9 427.3 L345.5 427.3 L345.5 429.8 L346.1 429.8 L347.7 429.8 L347.7 432.3 L349.3 432.3 L351.2 432.3 L351.2 435 L353.1 435 L355.4 435 L355.4 439.6 L357.7 439.6 L358.27 439.6 L358.27 443.65 L359.43 443.65 L359.43 447.7 L360 447.7 L360.3 447.7 L360.3 452.9 L360.9 452.9 L360.9 458.1 L361.2 458.1 L369.2 458.1 L369.5 458.1 L369.5 462.15 L370.1 462.15 L370.1 466.2 L370.4 466.2 L384.2 466.2 L384.2 476.5 L401.5 476.5" fill="none" stroke="#5a5a5a" stroke-width="1.3" stroke-linejoin="miter" stroke-linecap="square"/><path d="M397 474.9v3.2M401.5 474.9v3.2M366 456.5v3.2M376.4 464.6v3.2" stroke="#5a5a5a" stroke-width="1.1"/><path d="M302.9 319.5 L302.97 319.5 L302.97 321.08 L303.11 321.08 L303.11 322.65 L303.25 322.65 L303.25 324.23 L303.38 324.23 L303.38 325.81 L303.52 325.81 L303.52 327.38 L303.66 327.38 L303.66 328.96 L303.8 328.96 L303.8 330.54 L303.94 330.54 L303.94 332.12 L304.08 332.12 L304.08 333.69 L304.22 333.69 L304.22 335.27 L304.35 335.27 L304.35 336.85 L304.49 336.85 L304.49 338.42 L304.63 338.42 L304.63 340 L304.7 340 L304.78 340 L304.78 341.49 L304.94 341.49 L304.94 342.97 L305.09 342.97 L305.09 344.46 L305.25 344.46 L305.25 345.94 L305.41 345.94 L305.41 347.43 L305.56 347.43 L305.56 348.91 L305.72 348.91 L305.72 350.4 L305.8 350.4 L306.24 350.4 L306.24 351.85 L307.11 351.85 L307.11 353.3 L307.99 353.3 L307.99 354.75 L308.86 354.75 L308.86 356.2 L309.3 356.2 L309.74 356.2 L309.74 357.62 L310.61 357.62 L310.61 359.05 L311.49 359.05 L311.49 360.47 L312.36 360.47 L312.36 361.9 L312.8 361.9 L313.65 361.9 L313.65 363.65 L315.35 363.65 L315.35 365.4 L316.2 365.4 L317.07 365.4 L317.07 367.1 L318.82 367.1 L318.82 368.8 L319.7 368.8 L320.85 368.8 L320.85 370.55 L323.15 370.55 L323.15 372.3 L324.3 372.3 L325.07 372.3 L325.07 373.83 L326.6 373.83 L326.6 375.37 L328.13 375.37 L328.13 376.9 L328.9 376.9 L330.05 376.9 L330.05 378.65 L332.35 378.65 L332.35 380.4 L333.5 380.4 L333.79 380.4 L333.79 381.85 L334.36 381.85 L334.36 383.3 L334.94 383.3 L334.94 384.75 L335.51 384.75 L335.51 386.2 L335.8 386.2 L336.4 386.2 L336.4 387.9 L337.6 387.9 L337.6 389.6 L338.2 389.6 L339.6 389.6 L339.6 391.55 L342.4 391.55 L342.4 393.5 L343.8 393.5 L346.7 393.5 L346.7 395.8 L349.6 395.8 L350.18 395.8 L350.18 397.33 L351.35 397.33 L351.35 398.87 L352.52 398.87 L352.52 400.4 L353.1 400.4 L353.39 400.4 L353.39 401.85 L353.96 401.85 L353.96 403.3 L354.54 403.3 L354.54 404.75 L355.11 404.75 L355.11 406.2 L355.4 406.2 L357.12 406.2 L357.12 407.9 L360.57 407.9 L360.57 409.6 L362.3 409.6 L363.45 409.6 L363.45 411.35 L365.75 411.35 L365.75 413.1 L366.9 413.1 L367.28 413.1 L367.28 414.63 L368.05 414.63 L368.05 416.17 L368.82 416.17 L368.82 417.7 L369.2 417.7 L391.2 417.7 L391.2 425.6 L403.6 425.6 L403.6 433 L415.8 433 L415.8 453.5" fill="none" stroke="#7a347a" stroke-width="2.6" stroke-opacity="0.35" stroke-linejoin="round"/><path d="M302.9 319.5 L302.97 319.5 L302.97 321.08 L303.11 321.08 L303.11 322.65 L303.25 322.65 L303.25 324.23 L303.38 324.23 L303.38 325.81 L303.52 325.81 L303.52 327.38 L303.66 327.38 L303.66 328.96 L303.8 328.96 L303.8 330.54 L303.94 330.54 L303.94 332.12 L304.08 332.12 L304.08 333.69 L304.22 333.69 L304.22 335.27 L304.35 335.27 L304.35 336.85 L304.49 336.85 L304.49 338.42 L304.63 338.42 L304.63 340 L304.7 340 L304.78 340 L304.78 341.49 L304.94 341.49 L304.94 342.97 L305.09 342.97 L305.09 344.46 L305.25 344.46 L305.25 345.94 L305.41 345.94 L305.41 347.43 L305.56 347.43 L305.56 348.91 L305.72 348.91 L305.72 350.4 L305.8 350.4 L306.24 350.4 L306.24 351.85 L307.11 351.85 L307.11 353.3 L307.99 353.3 L307.99 354.75 L308.86 354.75 L308.86 356.2 L309.3 356.2 L309.74 356.2 L309.74 357.62 L310.61 357.62 L310.61 359.05 L311.49 359.05 L311.49 360.47 L312.36 360.47 L312.36 361.9 L312.8 361.9 L313.65 361.9 L313.65 363.65 L315.35 363.65 L315.35 365.4 L316.2 365.4 L317.07 365.4 L317.07 367.1 L318.82 367.1 L318.82 368.8 L319.7 368.8 L320.85 368.8 L320.85 370.55 L323.15 370.55 L323.15 372.3 L324.3 372.3 L325.07 372.3 L325.07 373.83 L326.6 373.83 L326.6 375.37 L328.13 375.37 L328.13 376.9 L328.9 376.9 L330.05 376.9 L330.05 378.65 L332.35 378.65 L332.35 380.4 L333.5 380.4 L333.79 380.4 L333.79 381.85 L334.36 381.85 L334.36 383.3 L334.94 383.3 L334.94 384.75 L335.51 384.75 L335.51 386.2 L335.8 386.2 L336.4 386.2 L336.4 387.9 L337.6 387.9 L337.6 389.6 L338.2 389.6 L339.6 389.6 L339.6 391.55 L342.4 391.55 L342.4 393.5 L343.8 393.5 L346.7 393.5 L346.7 395.8 L349.6 395.8 L350.18 395.8 L350.18 397.33 L351.35 397.33 L351.35 398.87 L352.52 398.87 L352.52 400.4 L353.1 400.4 L353.39 400.4 L353.39 401.85 L353.96 401.85 L353.96 403.3 L354.54 403.3 L354.54 404.75 L355.11 404.75 L355.11 406.2 L355.4 406.2 L357.12 406.2 L357.12 407.9 L360.57 407.9 L360.57 409.6 L362.3 409.6 L363.45 409.6 L363.45 411.35 L365.75 411.35 L365.75 413.1 L366.9 413.1 L367.28 413.1 L367.28 414.63 L368.05 414.63 L368.05 416.17 L368.82 416.17 L368.82 417.7 L369.2 417.7 L391.2 417.7 L391.2 425.6 L403.6 425.6 L403.6 433 L415.8 433 L415.8 453.5 L465.8 453.5" fill="none" stroke="#7a347a" stroke-width="1.3" stroke-linejoin="miter" stroke-linecap="square"/><path d="M375 416.1v3.2M378 416.1v3.2M381 416.1v3.2M384 416.1v3.2M387 416.1v3.2M419 451.9v3.2M438 451.9v3.2M448 451.9v3.2M465.8 451.9v3.2M375.2 416.1v3.2M393.2 424v3.2M401.2 424v3.2M409.6 431.4v3.2" stroke="#7a347a" stroke-width="1.1"/><path d="M291.5 309.5 H519.3 V504.4" fill="none" stroke="#555" stroke-width="1.2"/><path d="M291.5 309.5 V504.4 H519.3" fill="none" stroke="#1e1e1e" stroke-width="1.4"/><path d="M287.9 319.4 H291.5" stroke="#1e1e1e" stroke-width="1.2"/><text x="286.6" y="321.7" font-size="6.5" text-anchor="end" fill="#111" stroke="#111" stroke-width="0.15">1,0</text><path d="M287.9 354.52 H291.5" stroke="#1e1e1e" stroke-width="1.2"/><text x="286.6" y="356.82" font-size="6.5" text-anchor="end" fill="#111" stroke="#111" stroke-width="0.15">0,8</text><path d="M287.9 389.64 H291.5" stroke="#1e1e1e" stroke-width="1.2"/><text x="286.6" y="391.94" font-size="6.5" text-anchor="end" fill="#111" stroke="#111" stroke-width="0.15">0,6</text><path d="M287.9 424.76 H291.5" stroke="#1e1e1e" stroke-width="1.2"/><text x="286.6" y="427.06" font-size="6.5" text-anchor="end" fill="#111" stroke="#111" stroke-width="0.15">0,4</text><path d="M287.9 459.88 H291.5" stroke="#1e1e1e" stroke-width="1.2"/><text x="286.6" y="462.18" font-size="6.5" text-anchor="end" fill="#111" stroke="#111" stroke-width="0.15">0,2</text><path d="M287.9 495 H291.5" stroke="#1e1e1e" stroke-width="1.2"/><text x="286.6" y="497.3" font-size="6.5" text-anchor="end" fill="#111" stroke="#111" stroke-width="0.15">0,0</text><path d="M302.9 504.4 V508.1" stroke="#1e1e1e" stroke-width="1.2"/><text x="302.9" y="516.1" font-size="6.5" text-anchor="middle" fill="#111" stroke="#111" stroke-width="0.15">0</text><path d="M343.9 504.4 V508.1" stroke="#1e1e1e" stroke-width="1.2"/><text x="343.9" y="516.1" font-size="6.5" text-anchor="middle" fill="#111" stroke="#111" stroke-width="0.15">500</text><path d="M384.9 504.4 V508.1" stroke="#1e1e1e" stroke-width="1.2"/><text x="384.9" y="516.1" font-size="6.5" text-anchor="middle" fill="#111" stroke="#111" stroke-width="0.15">1000</text><path d="M425.9 504.4 V508.1" stroke="#1e1e1e" stroke-width="1.2"/><text x="425.9" y="516.1" font-size="6.5" text-anchor="middle" fill="#111" stroke="#111" stroke-width="0.15">1500</text><path d="M466.9 504.4 V508.1" stroke="#1e1e1e" stroke-width="1.2"/><text x="466.9" y="516.1" font-size="6.5" text-anchor="middle" fill="#111" stroke="#111" stroke-width="0.15">2000</text><path d="M507.9 504.4 V508.1" stroke="#1e1e1e" stroke-width="1.2"/><text x="507.9" y="516.1" font-size="6.5" text-anchor="middle" fill="#111" stroke="#111" stroke-width="0.15">2500</text><text x="291.3" y="301.5" font-size="13.5" font-weight="bold" fill="#000">D</text><text x="339.83" y="277.4" font-size="9.6" font-weight="bold" textLength="127.85" lengthAdjust="spacing" fill="#000">EFS in FLT3-TKD and NPM1</text><text x="333.67" y="288.8" font-size="9.6" font-weight="bold" textLength="141.34" lengthAdjust="spacing" fill="#000">(excluded all FLT3-LM+ cases)</text><path d="M361.3 313.3 H389" stroke="#1b2585" stroke-width="2.1"/><text x="395.98" y="317" font-size="8.4" textLength="104.71" lengthAdjust="spacing" fill="#1a1a1a" stroke="#1a1a1a" stroke-width="0.22">FLT3 TKD - / NPM1-: n=238</text><path d="M361.3 326.9 H389" stroke="#3a9c45" stroke-width="2.1"/><text x="395.98" y="329.5" font-size="8.4" textLength="103.27" lengthAdjust="spacing" fill="#1a1a1a" stroke="#1a1a1a" stroke-width="0.22">FLT3 TKD+ / NPM1+: n=16</text><path d="M361.3 339.3 H389" stroke="#454545" stroke-width="2.1"/><text x="395.98" y="341.4" font-size="8.4" textLength="100.26" lengthAdjust="spacing" fill="#1a1a1a" stroke="#1a1a1a" stroke-width="0.22">FLT3 TKD+ / NPM1-: n=63</text><path d="M361.3 352.9 H389" stroke="#4a1058" stroke-width="2.1"/><text x="395.98" y="353.8" font-size="8.4" textLength="104.08" lengthAdjust="spacing" fill="#1a1a1a" stroke="#1a1a1a" stroke-width="0.22">FLT3 TKD- / NPM1+: n=112</text><text y="478.1" font-size="8.6" fill="#1a1a1a" stroke="#1a1a1a" stroke-width="0.15" xml:space="preserve"><tspan x="303.2">2) vs. 1)</tspan><tspan x="336.1" font-style="italic">P</tspan><tspan x="346.5">=</tspan><tspan x="352.1">.069</tspan></text><text y="488.1" font-size="8.6" fill="#1a1a1a" stroke="#1a1a1a" stroke-width="0.15" xml:space="preserve"><tspan x="303.2">2) vs. 3)</tspan><tspan x="336.1" font-style="italic">P</tspan><tspan x="346.5">=</tspan><tspan x="352.1">.008</tspan></text><text y="498.5" font-size="8.6" fill="#1a1a1a" stroke="#1a1a1a" stroke-width="0.15" xml:space="preserve"><tspan x="303.2">2) vs. 4)</tspan><tspan x="336.1" font-style="italic">P</tspan><tspan x="346.5">=</tspan><tspan x="352.1">.011</tspan></text><text transform="translate(273.3 406.8) rotate(-90)" font-size="8.7" font-weight="bold" text-anchor="middle" fill="#111">Survival</text><text x="396.5" y="527.6" font-size="8.7" font-weight="bold" fill="#111">days</text></g>
<g><path d="M36.3 592.8 L36.44 592.8 L36.44 594.5 L36.72 594.5 L36.72 596.2 L36.99 596.2 L36.99 597.9 L37.27 597.9 L37.27 599.6 L37.55 599.6 L37.55 601.3 L37.83 601.3 L37.83 603 L38.11 603 L38.11 604.7 L38.38 604.7 L38.38 606.4 L38.66 606.4 L38.66 608.1 L38.8 608.1 L39.1 608.1 L39.1 609.83 L39.7 609.83 L39.7 611.55 L40.3 611.55 L40.3 613.27 L40.9 613.27 L40.9 615 L41.2 615 L41.77 615 L41.77 616.53 L42.9 616.53 L42.9 618.07 L44.03 618.07 L44.03 619.6 L44.6 619.6 L46.35 619.6 L46.35 620.8 L48.1 620.8 L50.4 620.8 L50.4 621.9 L52.7 621.9 L53.08 621.9 L53.08 623.43 L53.85 623.43 L53.85 624.97 L54.62 624.97 L54.62 626.5 L55 626.5 L55.2 626.5 L55.2 628.43 L55.6 628.43 L55.6 630.37 L56 630.37 L56 632.3 L56.2 632.3 L56.58 632.3 L56.58 633.83 L57.35 633.83 L57.35 635.37 L58.12 635.37 L58.12 636.9 L58.5 636.9 L58.88 636.9 L58.88 638.83 L59.65 638.83 L59.65 640.77 L60.42 640.77 L60.42 642.7 L60.8 642.7 L61.18 642.7 L61.18 644.63 L61.95 644.63 L61.95 646.57 L62.72 646.57 L62.72 648.5 L63.1 648.5 L63.68 648.5 L63.68 650.2 L64.83 650.2 L64.83 651.9 L65.4 651.9 L67.1 651.9 L67.1 653.1 L68.8 653.1 L70.55 653.1 L70.55 654.2 L72.3 654.2 L73.45 654.2 L73.45 656.5 L74.6 656.5 L76.35 656.5 L76.35 658.8 L78.1 658.8 L79.8 658.8 L79.8 661.2 L81.5 661.2 L90.8 661.2 L91.17 661.2 L91.17 662.7 L91.92 662.7 L91.92 664.2 L92.3 664.2 L111.9 664.2 L112.1 664.2 L112.1 665.73 L112.5 665.73 L112.5 667.27 L112.9 667.27 L112.9 668.8 L113.1 668.8 L113.67 668.8 L113.67 670.37 L114.8 670.37 L114.8 671.93 L115.93 671.93 L115.93 673.5 L116.5 673.5 L117.28 673.5 L117.28 675.03 L118.85 675.03 L118.85 676.57 L120.42 676.57 L120.42 678.1 L121.2 678.1 L121.78 678.1 L121.78 679.8 L122.92 679.8 L122.92 681.5 L123.5 681.5 L135 681.5 L135.12 681.5 L135.12 683.12 L135.36 683.12 L135.36 684.74 L135.6 684.74 L135.6 686.36 L135.84 686.36 L135.84 687.98 L136.08 687.98 L136.08 689.6 L136.2 689.6 L146.5 689.6 L146.57 689.6 L146.57 691.34 L146.72 691.34 L146.72 693.08 L146.88 693.08 L146.88 694.81 L147.03 694.81 L147.03 696.55 L147.17 696.55 L147.17 698.29 L147.32 698.29 L147.32 700.02 L147.47 700.02 L147.47 701.76 L147.62 701.76 L147.62 703.5 L147.7 703.5 L147.86 703.5 L147.86 705.31 L148.19 705.31 L148.19 707.13 L148.52 707.13 L148.52 708.94 L148.85 708.94 L148.85 710.76 L149.18 710.76 L149.18 712.57 L149.51 712.57 L149.51 714.39 L149.84 714.39 L149.84 716.2 L150 716.2 L160.6 716.2 L160.6 732.7" fill="none" stroke="#3a4fae" stroke-width="2.6" stroke-opacity="0.35" stroke-linejoin="round"/><path d="M36.3 592.8 L36.44 592.8 L36.44 594.5 L36.72 594.5 L36.72 596.2 L36.99 596.2 L36.99 597.9 L37.27 597.9 L37.27 599.6 L37.55 599.6 L37.55 601.3 L37.83 601.3 L37.83 603 L38.11 603 L38.11 604.7 L38.38 604.7 L38.38 606.4 L38.66 606.4 L38.66 608.1 L38.8 608.1 L39.1 608.1 L39.1 609.83 L39.7 609.83 L39.7 611.55 L40.3 611.55 L40.3 613.27 L40.9 613.27 L40.9 615 L41.2 615 L41.77 615 L41.77 616.53 L42.9 616.53 L42.9 618.07 L44.03 618.07 L44.03 619.6 L44.6 619.6 L46.35 619.6 L46.35 620.8 L48.1 620.8 L50.4 620.8 L50.4 621.9 L52.7 621.9 L53.08 621.9 L53.08 623.43 L53.85 623.43 L53.85 624.97 L54.62 624.97 L54.62 626.5 L55 626.5 L55.2 626.5 L55.2 628.43 L55.6 628.43 L55.6 630.37 L56 630.37 L56 632.3 L56.2 632.3 L56.58 632.3 L56.58 633.83 L57.35 633.83 L57.35 635.37 L58.12 635.37 L58.12 636.9 L58.5 636.9 L58.88 636.9 L58.88 638.83 L59.65 638.83 L59.65 640.77 L60.42 640.77 L60.42 642.7 L60.8 642.7 L61.18 642.7 L61.18 644.63 L61.95 644.63 L61.95 646.57 L62.72 646.57 L62.72 648.5 L63.1 648.5 L63.68 648.5 L63.68 650.2 L64.83 650.2 L64.83 651.9 L65.4 651.9 L67.1 651.9 L67.1 653.1 L68.8 653.1 L70.55 653.1 L70.55 654.2 L72.3 654.2 L73.45 654.2 L73.45 656.5 L74.6 656.5 L76.35 656.5 L76.35 658.8 L78.1 658.8 L79.8 658.8 L79.8 661.2 L81.5 661.2 L90.8 661.2 L91.17 661.2 L91.17 662.7 L91.92 662.7 L91.92 664.2 L92.3 664.2 L111.9 664.2 L112.1 664.2 L112.1 665.73 L112.5 665.73 L112.5 667.27 L112.9 667.27 L112.9 668.8 L113.1 668.8 L113.67 668.8 L113.67 670.37 L114.8 670.37 L114.8 671.93 L115.93 671.93 L115.93 673.5 L116.5 673.5 L117.28 673.5 L117.28 675.03 L118.85 675.03 L118.85 676.57 L120.42 676.57 L120.42 678.1 L121.2 678.1 L121.78 678.1 L121.78 679.8 L122.92 679.8 L122.92 681.5 L123.5 681.5 L135 681.5 L135.12 681.5 L135.12 683.12 L135.36 683.12 L135.36 684.74 L135.6 684.74 L135.6 686.36 L135.84 686.36 L135.84 687.98 L136.08 687.98 L136.08 689.6 L136.2 689.6 L146.5 689.6 L146.57 689.6 L146.57 691.34 L146.72 691.34 L146.72 693.08 L146.88 693.08 L146.88 694.81 L147.03 694.81 L147.03 696.55 L147.17 696.55 L147.17 698.29 L147.32 698.29 L147.32 700.02 L147.47 700.02 L147.47 701.76 L147.62 701.76 L147.62 703.5 L147.7 703.5 L147.86 703.5 L147.86 705.31 L148.19 705.31 L148.19 707.13 L148.52 707.13 L148.52 708.94 L148.85 708.94 L148.85 710.76 L149.18 710.76 L149.18 712.57 L149.51 712.57 L149.51 714.39 L149.84 714.39 L149.84 716.2 L150 716.2 L160.6 716.2 L160.6 732.7 L189.1 732.7" fill="none" stroke="#3a4fae" stroke-width="1.3" stroke-linejoin="miter" stroke-linecap="square"/><path d="M125 679.9v3.2M128 679.9v3.2M131 679.9v3.2M163 731.1v3.2M189.1 731.1v3.2M156 714.6v3.2M83.5 659.6v3.2M98.3 662.6v3.2M102.3 662.6v3.2M129.5 679.9v3.2M156 714.6v3.2" stroke="#3a4fae" stroke-width="1.1"/><path d="M36.3 592.8 L37.4 592.8 L37.4 600 L38.5 600 L39.5 600 L39.5 608 L40.5 608 L41.5 608 L41.5 615 L42.5 615 L79.2 615 L79.2 634.2 L211.5 634.2" fill="none" stroke="#3fae52" stroke-width="1.3" stroke-linejoin="miter" stroke-linecap="square"/><path d="M45.5 613.4v3.2M62 613.4v3.2M64 613.4v3.2M98 632.6v3.2M106 632.6v3.2M112 632.6v3.2M115 632.6v3.2M118 632.6v3.2M211.5 632.6v3.2" stroke="#3fae52" stroke-width="1.1"/><path d="M36.3 592.8 L36.61 592.8 L36.61 598.35 L37.24 598.35 L37.24 603.9 L37.86 603.9 L37.86 609.45 L38.49 609.45 L38.49 615 L38.8 615 L39.67 615 L39.67 620.2 L41.42 620.2 L41.42 625.4 L42.3 625.4 L45.2 625.4 L45.2 631.2 L48.1 631.2 L49.25 631.2 L49.25 634.6 L50.4 634.6 L57.3 634.6 L58.45 634.6 L58.45 640.4 L59.6 640.4 L60.75 640.4 L60.75 647.3 L61.9 647.3 L62.5 647.3 L62.5 653.1 L63.1 653.1 L78.1 653.1 L79.25 653.1 L79.25 658.8 L80.4 658.8 L80.95 658.8 L80.95 665.8 L81.5 665.8 L90.8 665.8 L90.8 680.4 L101.5 680.4 L101.8 680.4 L101.8 687.9 L102.4 687.9 L102.4 695.4 L102.7 695.4 L108.5 695.4 L108.78 695.4 L108.78 702.1 L109.32 702.1 L109.32 708.8 L109.6 708.8" fill="none" stroke="#5a5a5a" stroke-width="2.0" stroke-opacity="0.25" stroke-linejoin="round"/><path d="M36.3 592.8 L36.61 592.8 L36.61 598.35 L37.24 598.35 L37.24 603.9 L37.86 603.9 L37.86 609.45 L38.49 609.45 L38.49 615 L38.8 615 L39.67 615 L39.67 620.2 L41.42 620.2 L41.42 625.4 L42.3 625.4 L45.2 625.4 L45.2 631.2 L48.1 631.2 L49.25 631.2 L49.25 634.6 L50.4 634.6 L57.3 634.6 L58.45 634.6 L58.45 640.4 L59.6 640.4 L60.75 640.4 L60.75 647.3 L61.9 647.3 L62.5 647.3 L62.5 653.1 L63.1 653.1 L78.1 653.1 L79.25 653.1 L79.25 658.8 L80.4 658.8 L80.95 658.8 L80.95 665.8 L81.5 665.8 L90.8 665.8 L90.8 680.4 L101.5 680.4 L101.8 680.4 L101.8 687.9 L102.4 687.9 L102.4 695.4 L102.7 695.4 L108.5 695.4 L108.78 695.4 L108.78 702.1 L109.32 702.1 L109.32 708.8 L109.6 708.8 L155.2 708.8" fill="none" stroke="#5a5a5a" stroke-width="1.3" stroke-linejoin="miter" stroke-linecap="square"/><path d="M110 707.2v3.2M120 707.2v3.2M154.7 707.2v3.2M65.1 651.5v3.2M92.8 678.8v3.2M104.7 693.8v3.2" stroke="#5a5a5a" stroke-width="1.1"/><path d="M36.3 592.8 L36.36 592.8 L36.36 594.46 L36.47 594.46 L36.47 596.12 L36.59 596.12 L36.59 597.77 L36.71 597.77 L36.71 599.43 L36.83 599.43 L36.83 601.09 L36.94 601.09 L36.94 602.75 L37.06 602.75 L37.06 604.41 L37.17 604.41 L37.17 606.07 L37.29 606.07 L37.29 607.73 L37.41 607.73 L37.41 609.38 L37.53 609.38 L37.53 611.04 L37.64 611.04 L37.64 612.7 L37.7 612.7 L37.99 612.7 L37.99 614.43 L38.58 614.43 L38.58 616.17 L39.16 616.17 L39.16 617.9 L39.74 617.9 L39.74 619.63 L40.33 619.63 L40.33 621.37 L40.91 621.37 L40.91 623.1 L41.2 623.1 L41.97 623.1 L41.97 624.63 L43.5 624.63 L43.5 626.17 L45.03 626.17 L45.03 627.7 L45.8 627.7 L46.37 627.7 L46.37 629.23 L47.5 629.23 L47.5 630.77 L48.63 630.77 L48.63 632.3 L49.2 632.3 L51.5 632.3 L51.5 633.5 L53.8 633.5 L56.15 633.5 L56.15 634.6 L58.5 634.6 L60.2 634.6 L60.2 636.9 L61.9 636.9 L62.28 636.9 L62.28 638.43 L63.05 638.43 L63.05 639.97 L63.82 639.97 L63.82 641.5 L64.2 641.5 L64.78 641.5 L64.78 643.5 L65.92 643.5 L65.92 645.5 L66.5 645.5 L68.85 645.5 L68.85 646.2 L71.2 646.2 L75.8 646.2 L75.8 646.8 L80.4 646.8 L85.2 646.8 L85.2 646.9 L90 646.9 L92.3 646.9 L92.3 649.2 L94.6 649.2 L95.17 649.2 L95.17 650.95 L96.33 650.95 L96.33 652.7 L96.9 652.7 L97.28 652.7 L97.28 654.23 L98.05 654.23 L98.05 655.77 L98.82 655.77 L98.82 657.3 L99.2 657.3 L99.58 657.3 L99.58 658.83 L100.35 658.83 L100.35 660.37 L101.12 660.37 L101.12 661.9 L101.5 661.9 L137.3 661.9 L137.45 661.9 L137.45 663.35 L137.75 663.35 L137.75 664.8 L138.05 664.8 L138.05 666.25 L138.35 666.25 L138.35 667.7 L138.5 667.7 L138.61 667.7 L138.61 669.36 L138.83 669.36 L138.83 671.02 L139.05 671.02 L139.05 672.68 L139.27 672.68 L139.27 674.34 L139.49 674.34 L139.49 676 L139.6 676 L157 676 L157 684.4" fill="none" stroke="#7a347a" stroke-width="2.6" stroke-opacity="0.35" stroke-linejoin="round"/><path d="M36.3 592.8 L36.36 592.8 L36.36 594.46 L36.47 594.46 L36.47 596.12 L36.59 596.12 L36.59 597.77 L36.71 597.77 L36.71 599.43 L36.83 599.43 L36.83 601.09 L36.94 601.09 L36.94 602.75 L37.06 602.75 L37.06 604.41 L37.17 604.41 L37.17 606.07 L37.29 606.07 L37.29 607.73 L37.41 607.73 L37.41 609.38 L37.53 609.38 L37.53 611.04 L37.64 611.04 L37.64 612.7 L37.7 612.7 L37.99 612.7 L37.99 614.43 L38.58 614.43 L38.58 616.17 L39.16 616.17 L39.16 617.9 L39.74 617.9 L39.74 619.63 L40.33 619.63 L40.33 621.37 L40.91 621.37 L40.91 623.1 L41.2 623.1 L41.97 623.1 L41.97 624.63 L43.5 624.63 L43.5 626.17 L45.03 626.17 L45.03 627.7 L45.8 627.7 L46.37 627.7 L46.37 629.23 L47.5 629.23 L47.5 630.77 L48.63 630.77 L48.63 632.3 L49.2 632.3 L51.5 632.3 L51.5 633.5 L53.8 633.5 L56.15 633.5 L56.15 634.6 L58.5 634.6 L60.2 634.6 L60.2 636.9 L61.9 636.9 L62.28 636.9 L62.28 638.43 L63.05 638.43 L63.05 639.97 L63.82 639.97 L63.82 641.5 L64.2 641.5 L64.78 641.5 L64.78 643.5 L65.92 643.5 L65.92 645.5 L66.5 645.5 L68.85 645.5 L68.85 646.2 L71.2 646.2 L75.8 646.2 L75.8 646.8 L80.4 646.8 L85.2 646.8 L85.2 646.9 L90 646.9 L92.3 646.9 L92.3 649.2 L94.6 649.2 L95.17 649.2 L95.17 650.95 L96.33 650.95 L96.33 652.7 L96.9 652.7 L97.28 652.7 L97.28 654.23 L98.05 654.23 L98.05 655.77 L98.82 655.77 L98.82 657.3 L99.2 657.3 L99.58 657.3 L99.58 658.83 L100.35 658.83 L100.35 660.37 L101.12 660.37 L101.12 661.9 L101.5 661.9 L137.3 661.9 L137.45 661.9 L137.45 663.35 L137.75 663.35 L137.75 664.8 L138.05 664.8 L138.05 666.25 L138.35 666.25 L138.35 667.7 L138.5 667.7 L138.61 667.7 L138.61 669.36 L138.83 669.36 L138.83 671.02 L139.05 671.02 L139.05 672.68 L139.27 672.68 L139.27 674.34 L139.49 674.34 L139.49 676 L139.6 676 L157 676 L157 684.4 L238.9 684.4" fill="none" stroke="#7a347a" stroke-width="1.3" stroke-linejoin="miter" stroke-linecap="square"/><path d="M106 660.3v3.2M110 660.3v3.2M114 660.3v3.2M118 660.3v3.2M122 660.3v3.2M126 660.3v3.2M130 660.3v3.2M163 682.8v3.2M175 682.8v3.2M180 682.8v3.2M205 682.8v3.2M217 682.8v3.2M219 682.8v3.2M226 682.8v3.2M238.9 682.8v3.2M76 644.9v3.2M80 644.9v3.2M84 644.9v3.2M73.2 644.6v3.2M77.8 645.2v3.2M87.2 645.3v3.2M103.5 660.3v3.2M107.5 660.3v3.2M115.5 660.3v3.2M119.5 660.3v3.2M127.5 660.3v3.2M145.6 674.4v3.2" stroke="#7a347a" stroke-width="1.1"/><path d="M25 583.5 H251.7 V776.7" fill="none" stroke="#555" stroke-width="1.2"/><path d="M25 583.5 V776.7 H251.7" fill="none" stroke="#1e1e1e" stroke-width="1.4"/><path d="M21.4 593.5 H25" stroke="#1e1e1e" stroke-width="1.2"/><text x="20.1" y="595.8" font-size="6.5" text-anchor="end" fill="#111" stroke="#111" stroke-width="0.15">1,0</text><path d="M21.4 628.4 H25" stroke="#1e1e1e" stroke-width="1.2"/><text x="20.1" y="630.7" font-size="6.5" text-anchor="end" fill="#111" stroke="#111" stroke-width="0.15">0,8</text><path d="M21.4 663.3 H25" stroke="#1e1e1e" stroke-width="1.2"/><text x="20.1" y="665.6" font-size="6.5" text-anchor="end" fill="#111" stroke="#111" stroke-width="0.15">0,6</text><path d="M21.4 698.2 H25" stroke="#1e1e1e" stroke-width="1.2"/><text x="20.1" y="700.5" font-size="6.5" text-anchor="end" fill="#111" stroke="#111" stroke-width="0.15">0,4</text><path d="M21.4 733.1 H25" stroke="#1e1e1e" stroke-width="1.2"/><text x="20.1" y="735.4" font-size="6.5" text-anchor="end" fill="#111" stroke="#111" stroke-width="0.15">0,2</text><path d="M21.4 768 H25" stroke="#1e1e1e" stroke-width="1.2"/><text x="20.1" y="770.3" font-size="6.5" text-anchor="end" fill="#111" stroke="#111" stroke-width="0.15">0,0</text><path d="M33.4 776.7 V780.4" stroke="#1e1e1e" stroke-width="1.2"/><text x="33.4" y="788.3" font-size="6.5" text-anchor="middle" fill="#111" stroke="#111" stroke-width="0.15">0</text><path d="M74.42 776.7 V780.4" stroke="#1e1e1e" stroke-width="1.2"/><text x="74.42" y="788.3" font-size="6.5" text-anchor="middle" fill="#111" stroke="#111" stroke-width="0.15">500</text><path d="M115.44 776.7 V780.4" stroke="#1e1e1e" stroke-width="1.2"/><text x="115.44" y="788.3" font-size="6.5" text-anchor="middle" fill="#111" stroke="#111" stroke-width="0.15">1000</text><path d="M156.46 776.7 V780.4" stroke="#1e1e1e" stroke-width="1.2"/><text x="156.46" y="788.3" font-size="6.5" text-anchor="middle" fill="#111" stroke="#111" stroke-width="0.15">1500</text><path d="M197.48 776.7 V780.4" stroke="#1e1e1e" stroke-width="1.2"/><text x="197.48" y="788.3" font-size="6.5" text-anchor="middle" fill="#111" stroke="#111" stroke-width="0.15">2000</text><path d="M238.5 776.7 V780.4" stroke="#1e1e1e" stroke-width="1.2"/><text x="238.5" y="788.3" font-size="6.5" text-anchor="middle" fill="#111" stroke="#111" stroke-width="0.15">2500</text><text x="25" y="574.7" font-size="13.5" font-weight="bold" fill="#000">E</text><text x="76.67" y="551" font-size="9.6" font-weight="bold" textLength="123.31" lengthAdjust="spacing" fill="#000">OS in FLT3-TKD and NPM1</text><text x="76.57" y="562.2" font-size="9.6" font-weight="bold" textLength="140.84" lengthAdjust="spacing" fill="#000">(excluded all FLT3-LM+ cases)</text><text x="98.37" y="574.6" font-size="9.6" font-weight="bold" textLength="80.62" lengthAdjust="spacing" fill="#000">Only de novo, NK</text><path d="M94.3 588.3 H121.7" stroke="#1b2585" stroke-width="2.1"/><text x="128.42" y="592.4" font-size="8.4" textLength="112.87" lengthAdjust="spacing" fill="#1a1a1a" stroke="#1a1a1a" stroke-width="0.22">1) FLT3 TKD - / NPM1-: n=101</text><path d="M94.3 602.2 H121.7" stroke="#3a9c45" stroke-width="2.1"/><text x="128.63" y="604.9" font-size="8.4" textLength="111.1" lengthAdjust="spacing" fill="#1a1a1a" stroke="#1a1a1a" stroke-width="0.22">2) FLT3 TKD+ / NPM1+: n=16</text><path d="M94.3 614.3 H121.7" stroke="#454545" stroke-width="2.1"/><text x="128.71" y="617.3" font-size="8.4" textLength="109.46" lengthAdjust="spacing" fill="#1a1a1a" stroke="#1a1a1a" stroke-width="0.22">3) FLT3 TKD+ / NPM1-: n=28</text><path d="M94.3 627.7 H121.7" stroke="#4a1058" stroke-width="2.1"/><text x="128.84" y="630.1" font-size="8.4" textLength="114.29" lengthAdjust="spacing" fill="#1a1a1a" stroke="#1a1a1a" stroke-width="0.22">4) FLT3 TKD- / NPM1+: n=106</text><text y="749.5" font-size="8.6" fill="#1a1a1a" stroke="#1a1a1a" stroke-width="0.15" xml:space="preserve"><tspan x="36.2">2) vs. 1)</tspan><tspan x="69.1" font-style="italic">P</tspan><tspan x="79.5">=</tspan><tspan x="85.2">.154</tspan></text><text y="759.1" font-size="8.6" fill="#1a1a1a" stroke="#1a1a1a" stroke-width="0.15" xml:space="preserve"><tspan x="36.2">2) vs. 3)</tspan><tspan x="69.1" font-style="italic">P</tspan><tspan x="79.5">=</tspan><tspan x="85.2">.084</tspan></text><text y="769.1" font-size="8.6" fill="#1a1a1a" stroke="#1a1a1a" stroke-width="0.15" xml:space="preserve"><tspan x="36.2">2) vs. 4)</tspan><tspan x="69.1" font-style="italic">P</tspan><tspan x="76.7">=</tspan><tspan x="85.2">.308</tspan></text><text transform="translate(7.1 680.3) rotate(-90)" font-size="8.7" font-weight="bold" text-anchor="middle" fill="#111">Survival</text><text x="126.8" y="799.5" font-size="8.7" font-weight="bold" fill="#111">days</text></g>
<g><path d="M299.5 593.1 L299.62 593.1 L299.62 594.72 L299.86 594.72 L299.86 596.34 L300.1 596.34 L300.1 597.96 L300.34 597.96 L300.34 599.58 L300.58 599.58 L300.58 601.2 L300.7 601.2 L300.78 601.2 L300.78 602.84 L300.94 602.84 L300.94 604.49 L301.09 604.49 L301.09 606.13 L301.25 606.13 L301.25 607.77 L301.41 607.77 L301.41 609.41 L301.56 609.41 L301.56 611.06 L301.72 611.06 L301.72 612.7 L301.8 612.7 L302.04 612.7 L302.04 614.54 L302.52 614.54 L302.52 616.38 L303 616.38 L303 618.22 L303.48 618.22 L303.48 620.06 L303.96 620.06 L303.96 621.9 L304.2 621.9 L304.77 621.9 L304.77 623.65 L305.93 623.65 L305.93 625.4 L306.5 625.4 L308.2 625.4 L308.2 627.7 L309.9 627.7 L311.65 627.7 L311.65 630 L313.4 630 L313.58 630 L313.58 631.53 L313.95 631.53 L313.95 633.07 L314.32 633.07 L314.32 634.6 L314.5 634.6 L315.07 634.6 L315.07 636.35 L316.23 636.35 L316.23 638.1 L316.8 638.1 L317.1 638.1 L317.1 639.83 L317.7 639.83 L317.7 641.55 L318.3 641.55 L318.3 643.27 L318.9 643.27 L318.9 645 L319.2 645 L319.58 645 L319.58 646.53 L320.35 646.53 L320.35 648.07 L321.12 648.07 L321.12 649.6 L321.5 649.6 L321.88 649.6 L321.88 651.13 L322.65 651.13 L322.65 652.67 L323.42 652.67 L323.42 654.2 L323.8 654.2 L324.18 654.2 L324.18 655.73 L324.95 655.73 L324.95 657.27 L325.72 657.27 L325.72 658.8 L326.1 658.8 L326.48 658.8 L326.48 660.73 L327.25 660.73 L327.25 662.67 L328.02 662.67 L328.02 664.6 L328.4 664.6 L328.78 664.6 L328.78 666.53 L329.55 666.53 L329.55 668.47 L330.32 668.47 L330.32 670.4 L330.7 670.4 L331.35 670.4 L331.35 671.93 L332.65 671.93 L332.65 673.47 L333.95 673.47 L333.95 675 L334.6 675 L335.18 675 L335.18 676.53 L336.35 676.53 L336.35 678.07 L337.52 678.07 L337.52 679.6 L338.1 679.6 L338.33 679.6 L338.33 681.44 L338.79 681.44 L338.79 683.28 L339.25 683.28 L339.25 685.12 L339.71 685.12 L339.71 686.96 L340.17 686.96 L340.17 688.8 L340.4 688.8 L340.97 688.8 L340.97 690.55 L342.12 690.55 L342.12 692.3 L342.7 692.3 L343.08 692.3 L343.08 693.83 L343.85 693.83 L343.85 695.37 L344.62 695.37 L344.62 696.9 L345 696.9 L346.75 696.9 L346.75 699.2 L348.5 699.2 L351.95 699.2 L351.95 701.5 L355.4 701.5 L357.42 701.5 L357.42 703.25 L361.48 703.25 L361.48 705 L363.5 705 L384.2 705 L384.4 705 L384.4 706.53 L384.8 706.53 L384.8 708.07 L385.2 708.07 L385.2 709.6 L385.4 709.6 L385.69 709.6 L385.69 711.33 L386.26 711.33 L386.26 713.05 L386.84 713.05 L386.84 714.77 L387.41 714.77 L387.41 716.5 L387.7 716.5 L388.08 716.5 L388.08 718.07 L388.85 718.07 L388.85 719.63 L389.62 719.63 L389.62 721.2 L390 721.2 L393.45 721.2 L393.45 722.3 L396.9 722.3 L397.28 722.3 L397.28 724.23 L398.05 724.23 L398.05 726.17 L398.82 726.17 L398.82 728.1 L399.2 728.1 L401.35 728.1 L401.35 728.9 L403.5 728.9 L403.5 736.5 L412.7 736.5 L412.7 747.4" fill="none" stroke="#3a4fae" stroke-width="2.6" stroke-opacity="0.35" stroke-linejoin="round"/><path d="M299.5 593.1 L299.62 593.1 L299.62 594.72 L299.86 594.72 L299.86 596.34 L300.1 596.34 L300.1 597.96 L300.34 597.96 L300.34 599.58 L300.58 599.58 L300.58 601.2 L300.7 601.2 L300.78 601.2 L300.78 602.84 L300.94 602.84 L300.94 604.49 L301.09 604.49 L301.09 606.13 L301.25 606.13 L301.25 607.77 L301.41 607.77 L301.41 609.41 L301.56 609.41 L301.56 611.06 L301.72 611.06 L301.72 612.7 L301.8 612.7 L302.04 612.7 L302.04 614.54 L302.52 614.54 L302.52 616.38 L303 616.38 L303 618.22 L303.48 618.22 L303.48 620.06 L303.96 620.06 L303.96 621.9 L304.2 621.9 L304.77 621.9 L304.77 623.65 L305.93 623.65 L305.93 625.4 L306.5 625.4 L308.2 625.4 L308.2 627.7 L309.9 627.7 L311.65 627.7 L311.65 630 L313.4 630 L313.58 630 L313.58 631.53 L313.95 631.53 L313.95 633.07 L314.32 633.07 L314.32 634.6 L314.5 634.6 L315.07 634.6 L315.07 636.35 L316.23 636.35 L316.23 638.1 L316.8 638.1 L317.1 638.1 L317.1 639.83 L317.7 639.83 L317.7 641.55 L318.3 641.55 L318.3 643.27 L318.9 643.27 L318.9 645 L319.2 645 L319.58 645 L319.58 646.53 L320.35 646.53 L320.35 648.07 L321.12 648.07 L321.12 649.6 L321.5 649.6 L321.88 649.6 L321.88 651.13 L322.65 651.13 L322.65 652.67 L323.42 652.67 L323.42 654.2 L323.8 654.2 L324.18 654.2 L324.18 655.73 L324.95 655.73 L324.95 657.27 L325.72 657.27 L325.72 658.8 L326.1 658.8 L326.48 658.8 L326.48 660.73 L327.25 660.73 L327.25 662.67 L328.02 662.67 L328.02 664.6 L328.4 664.6 L328.78 664.6 L328.78 666.53 L329.55 666.53 L329.55 668.47 L330.32 668.47 L330.32 670.4 L330.7 670.4 L331.35 670.4 L331.35 671.93 L332.65 671.93 L332.65 673.47 L333.95 673.47 L333.95 675 L334.6 675 L335.18 675 L335.18 676.53 L336.35 676.53 L336.35 678.07 L337.52 678.07 L337.52 679.6 L338.1 679.6 L338.33 679.6 L338.33 681.44 L338.79 681.44 L338.79 683.28 L339.25 683.28 L339.25 685.12 L339.71 685.12 L339.71 686.96 L340.17 686.96 L340.17 688.8 L340.4 688.8 L340.97 688.8 L340.97 690.55 L342.12 690.55 L342.12 692.3 L342.7 692.3 L343.08 692.3 L343.08 693.83 L343.85 693.83 L343.85 695.37 L344.62 695.37 L344.62 696.9 L345 696.9 L346.75 696.9 L346.75 699.2 L348.5 699.2 L351.95 699.2 L351.95 701.5 L355.4 701.5 L357.42 701.5 L357.42 703.25 L361.48 703.25 L361.48 705 L363.5 705 L384.2 705 L384.4 705 L384.4 706.53 L384.8 706.53 L384.8 708.07 L385.2 708.07 L385.2 709.6 L385.4 709.6 L385.69 709.6 L385.69 711.33 L386.26 711.33 L386.26 713.05 L386.84 713.05 L386.84 714.77 L387.41 714.77 L387.41 716.5 L387.7 716.5 L388.08 716.5 L388.08 718.07 L388.85 718.07 L388.85 719.63 L389.62 719.63 L389.62 721.2 L390 721.2 L393.45 721.2 L393.45 722.3 L396.9 722.3 L397.28 722.3 L397.28 724.23 L398.05 724.23 L398.05 726.17 L398.82 726.17 L398.82 728.1 L399.2 728.1 L401.35 728.1 L401.35 728.9 L403.5 728.9 L403.5 736.5 L412.7 736.5 L412.7 747.4 L451.9 747.4" fill="none" stroke="#3a4fae" stroke-width="1.3" stroke-linejoin="miter" stroke-linecap="square"/><path d="M366 703.4v3.2M368 703.4v3.2M372 703.4v3.2M392 720.2v3.2M395 720.2v3.2M427 745.8v3.2M451.9 745.8v3.2M407 734.9v3.2M369.5 703.4v3.2M373.5 703.4v3.2M377.5 703.4v3.2M409.5 734.9v3.2" stroke="#3a4fae" stroke-width="1.1"/><path d="M299.5 593.1 L300.65 593.1 L300.65 609.2 L301.8 609.2 L303 609.2 L303 615 L304.2 615 L319.2 615 L319.2 630.7 L474.6 630.7" fill="none" stroke="#3fae52" stroke-width="1.3" stroke-linejoin="miter" stroke-linecap="square"/><path d="M307 613.4v3.2M318 613.4v3.2M327 629.1v3.2M363 629.1v3.2M369 629.1v3.2M375 629.1v3.2M380 629.1v3.2M385 629.1v3.2M474.6 629.1v3.2" stroke="#3fae52" stroke-width="1.1"/><path d="M299.5 593.1 L299.79 593.1 L299.79 598.58 L300.36 598.58 L300.36 604.05 L300.94 604.05 L300.94 609.52 L301.51 609.52 L301.51 615 L301.8 615 L302.68 615 L302.68 620.2 L304.43 620.2 L304.43 625.4 L305.3 625.4 L307.05 625.4 L307.05 627.7 L308.8 627.7 L309.95 627.7 L309.95 631.2 L311.1 631.2 L312.25 631.2 L312.25 636.9 L313.4 636.9 L314.55 636.9 L314.55 641.5 L315.7 641.5 L316.9 641.5 L316.9 642.3 L318.1 642.3 L318.1 650.8 L325 650.8 L325.2 650.8 L325.2 659.6 L325.4 659.6 L332.3 659.6 L332.3 668.8 L338.1 668.8 L338.2 668.8 L338.2 673.65 L338.4 673.65 L338.4 678.5 L338.5 678.5 L339.85 678.5 L339.85 678.8 L341.2 678.8 L341.2 687.7 L342.5 687.7 L342.5 696.9 L343.8 696.9 L345 696.9 L345 700.4 L346.2 700.4 L348.5 700.4 L348.5 701.5 L350.8 701.5 L351.07 701.5 L351.07 706.7 L351.62 706.7 L351.62 711.9 L351.9 711.9 L357.7 711.9 L357.98 711.9 L357.98 717.7 L358.52 717.7 L358.52 723.5 L358.8 723.5 L371.5 723.5 L371.8 723.5 L371.8 728.65 L372.4 728.65 L372.4 733.8 L372.7 733.8 L383.1 733.8 L383.1 745.8 L399.2 745.8 L399.2 756.5" fill="none" stroke="#5a5a5a" stroke-width="2.0" stroke-opacity="0.25" stroke-linejoin="round"/><path d="M299.5 593.1 L299.79 593.1 L299.79 598.58 L300.36 598.58 L300.36 604.05 L300.94 604.05 L300.94 609.52 L301.51 609.52 L301.51 615 L301.8 615 L302.68 615 L302.68 620.2 L304.43 620.2 L304.43 625.4 L305.3 625.4 L307.05 625.4 L307.05 627.7 L308.8 627.7 L309.95 627.7 L309.95 631.2 L311.1 631.2 L312.25 631.2 L312.25 636.9 L313.4 636.9 L314.55 636.9 L314.55 641.5 L315.7 641.5 L316.9 641.5 L316.9 642.3 L318.1 642.3 L318.1 650.8 L325 650.8 L325.2 650.8 L325.2 659.6 L325.4 659.6 L332.3 659.6 L332.3 668.8 L338.1 668.8 L338.2 668.8 L338.2 673.65 L338.4 673.65 L338.4 678.5 L338.5 678.5 L339.85 678.5 L339.85 678.8 L341.2 678.8 L341.2 687.7 L342.5 687.7 L342.5 696.9 L343.8 696.9 L345 696.9 L345 700.4 L346.2 700.4 L348.5 700.4 L348.5 701.5 L350.8 701.5 L351.07 701.5 L351.07 706.7 L351.62 706.7 L351.62 711.9 L351.9 711.9 L357.7 711.9 L357.98 711.9 L357.98 717.7 L358.52 717.7 L358.52 723.5 L358.8 723.5 L371.5 723.5 L371.8 723.5 L371.8 728.65 L372.4 728.65 L372.4 733.8 L372.7 733.8 L383.1 733.8 L383.1 745.8 L399.2 745.8 L399.2 756.5 L417.5 756.5" fill="none" stroke="#5a5a5a" stroke-width="1.3" stroke-linejoin="miter" stroke-linecap="square"/><path d="M417.5 754.9v3.2M368.8 721.9v3.2" stroke="#5a5a5a" stroke-width="1.1"/><path d="M299.5 593.1 L299.6 593.1 L299.6 594.83 L299.78 594.83 L299.78 596.56 L299.98 596.56 L299.98 598.29 L300.16 598.29 L300.16 600.02 L300.36 600.02 L300.36 601.75 L300.54 601.75 L300.54 603.48 L300.74 603.48 L300.74 605.21 L300.92 605.21 L300.92 606.94 L301.12 606.94 L301.12 608.67 L301.3 608.67 L301.3 610.4 L301.4 610.4 L301.53 610.4 L301.53 611.93 L301.8 611.93 L301.8 613.47 L302.07 613.47 L302.07 615 L302.33 615 L302.33 616.53 L302.6 616.53 L302.6 618.07 L302.87 618.07 L302.87 619.6 L303 619.6 L303.44 619.6 L303.44 621.05 L304.31 621.05 L304.31 622.5 L305.19 622.5 L305.19 623.95 L306.06 623.95 L306.06 625.4 L306.5 625.4 L306.93 625.4 L306.93 626.85 L307.77 626.85 L307.77 628.3 L308.62 628.3 L308.62 629.75 L309.47 629.75 L309.47 631.2 L309.9 631.2 L310.48 631.2 L310.48 632.73 L311.65 632.73 L311.65 634.27 L312.82 634.27 L312.82 635.8 L313.4 635.8 L314.17 635.8 L314.17 637.33 L315.7 637.33 L315.7 638.87 L317.23 638.87 L317.23 640.4 L318 640.4 L320.3 640.4 L320.3 642.7 L322.6 642.7 L323.75 642.7 L323.75 644.45 L326.05 644.45 L326.05 646.2 L327.2 646.2 L328.35 646.2 L328.35 647.9 L330.65 647.9 L330.65 649.6 L331.8 649.6 L332.68 649.6 L332.68 651.35 L334.43 651.35 L334.43 653.1 L335.3 653.1 L335.68 653.1 L335.68 654.63 L336.45 654.63 L336.45 656.17 L337.22 656.17 L337.22 657.7 L337.6 657.7 L337.73 657.7 L337.73 659.45 L337.98 659.45 L337.98 661.2 L338.1 661.2 L339.25 661.2 L339.25 662.9 L341.55 662.9 L341.55 664.6 L342.7 664.6 L345.6 664.6 L345.6 666.9 L348.5 666.9 L352.5 666.9 L352.5 669.2 L356.5 669.2 L357.07 669.2 L357.07 670.95 L358.23 670.95 L358.23 672.7 L358.8 672.7 L359.1 672.7 L359.1 674.15 L359.7 674.15 L359.7 675.6 L360.3 675.6 L360.3 677.05 L360.9 677.05 L360.9 678.5 L361.2 678.5 L362.05 678.5 L362.05 680.2 L363.75 680.2 L363.75 681.9 L364.6 681.9 L368.05 681.9 L368.05 683.1 L371.5 683.1 L373.85 683.1 L373.85 685.4 L376.2 685.4 L377.05 685.4 L377.05 687.1 L378.75 687.1 L378.75 688.8 L379.6 688.8 L409.2 688.8 L409.2 696.2 L424.2 696.2 L424.2 703.8 L438.8 703.8 L438.82 703.8 L438.82 705.47 L438.85 705.47 L438.85 707.14 L438.88 707.14 L438.88 708.81 L438.91 708.81 L438.91 710.48 L438.94 710.48 L438.94 712.15 L438.97 712.15 L438.97 713.82 L439 713.82 L439 715.48 L439.03 715.48 L439.03 717.15 L439.06 717.15 L439.06 718.82 L439.09 718.82 L439.09 720.49 L439.12 720.49 L439.12 722.16 L439.15 722.16 L439.15 723.83 L439.18 723.83 L439.18 725.5 L439.2 725.5" fill="none" stroke="#7a347a" stroke-width="2.6" stroke-opacity="0.35" stroke-linejoin="round"/><path d="M299.5 593.1 L299.6 593.1 L299.6 594.83 L299.78 594.83 L299.78 596.56 L299.98 596.56 L299.98 598.29 L300.16 598.29 L300.16 600.02 L300.36 600.02 L300.36 601.75 L300.54 601.75 L300.54 603.48 L300.74 603.48 L300.74 605.21 L300.92 605.21 L300.92 606.94 L301.12 606.94 L301.12 608.67 L301.3 608.67 L301.3 610.4 L301.4 610.4 L301.53 610.4 L301.53 611.93 L301.8 611.93 L301.8 613.47 L302.07 613.47 L302.07 615 L302.33 615 L302.33 616.53 L302.6 616.53 L302.6 618.07 L302.87 618.07 L302.87 619.6 L303 619.6 L303.44 619.6 L303.44 621.05 L304.31 621.05 L304.31 622.5 L305.19 622.5 L305.19 623.95 L306.06 623.95 L306.06 625.4 L306.5 625.4 L306.93 625.4 L306.93 626.85 L307.77 626.85 L307.77 628.3 L308.62 628.3 L308.62 629.75 L309.47 629.75 L309.47 631.2 L309.9 631.2 L310.48 631.2 L310.48 632.73 L311.65 632.73 L311.65 634.27 L312.82 634.27 L312.82 635.8 L313.4 635.8 L314.17 635.8 L314.17 637.33 L315.7 637.33 L315.7 638.87 L317.23 638.87 L317.23 640.4 L318 640.4 L320.3 640.4 L320.3 642.7 L322.6 642.7 L323.75 642.7 L323.75 644.45 L326.05 644.45 L326.05 646.2 L327.2 646.2 L328.35 646.2 L328.35 647.9 L330.65 647.9 L330.65 649.6 L331.8 649.6 L332.68 649.6 L332.68 651.35 L334.43 651.35 L334.43 653.1 L335.3 653.1 L335.68 653.1 L335.68 654.63 L336.45 654.63 L336.45 656.17 L337.22 656.17 L337.22 657.7 L337.6 657.7 L337.73 657.7 L337.73 659.45 L337.98 659.45 L337.98 661.2 L338.1 661.2 L339.25 661.2 L339.25 662.9 L341.55 662.9 L341.55 664.6 L342.7 664.6 L345.6 664.6 L345.6 666.9 L348.5 666.9 L352.5 666.9 L352.5 669.2 L356.5 669.2 L357.07 669.2 L357.07 670.95 L358.23 670.95 L358.23 672.7 L358.8 672.7 L359.1 672.7 L359.1 674.15 L359.7 674.15 L359.7 675.6 L360.3 675.6 L360.3 677.05 L360.9 677.05 L360.9 678.5 L361.2 678.5 L362.05 678.5 L362.05 680.2 L363.75 680.2 L363.75 681.9 L364.6 681.9 L368.05 681.9 L368.05 683.1 L371.5 683.1 L373.85 683.1 L373.85 685.4 L376.2 685.4 L377.05 685.4 L377.05 687.1 L378.75 687.1 L378.75 688.8 L379.6 688.8 L409.2 688.8 L409.2 696.2 L424.2 696.2 L424.2 703.8 L438.8 703.8 L438.82 703.8 L438.82 705.47 L438.85 705.47 L438.85 707.14 L438.88 707.14 L438.88 708.81 L438.91 708.81 L438.91 710.48 L438.94 710.48 L438.94 712.15 L438.97 712.15 L438.97 713.82 L439 713.82 L439 715.48 L439.03 715.48 L439.03 717.15 L439.06 717.15 L439.06 718.82 L439.09 718.82 L439.09 720.49 L439.12 720.49 L439.12 722.16 L439.15 722.16 L439.15 723.83 L439.18 723.83 L439.18 725.5 L439.2 725.5 L501.5 725.5" fill="none" stroke="#7a347a" stroke-width="1.3" stroke-linejoin="miter" stroke-linecap="square"/><path d="M382 687.2v3.2M385 687.2v3.2M388 687.2v3.2M391 687.2v3.2M394 687.2v3.2M397 687.2v3.2M400 687.2v3.2M403 687.2v3.2M442 723.9v3.2M467.5 723.9v3.2M480 723.9v3.2M501.5 723.9v3.2M426 702.2v3.2M350.5 665.3v3.2M354.5 667.6v3.2M381.6 687.2v3.2M385.6 687.2v3.2M389.6 687.2v3.2M397.6 687.2v3.2M401.6 687.2v3.2M415.2 694.6v3.2M426.2 702.2v3.2M434.2 702.2v3.2" stroke="#7a347a" stroke-width="1.1"/><path d="M287.6 583.2 H514.6 V777.6" fill="none" stroke="#555" stroke-width="1.2"/><path d="M287.6 583.2 V777.6 H514.6" fill="none" stroke="#1e1e1e" stroke-width="1.4"/><path d="M284 593.5 H287.6" stroke="#1e1e1e" stroke-width="1.2"/><text x="282.7" y="595.8" font-size="6.5" text-anchor="end" fill="#111" stroke="#111" stroke-width="0.15">1,0</text><path d="M284 628.48 H287.6" stroke="#1e1e1e" stroke-width="1.2"/><text x="282.7" y="630.78" font-size="6.5" text-anchor="end" fill="#111" stroke="#111" stroke-width="0.15">0,8</text><path d="M284 663.46 H287.6" stroke="#1e1e1e" stroke-width="1.2"/><text x="282.7" y="665.76" font-size="6.5" text-anchor="end" fill="#111" stroke="#111" stroke-width="0.15">0,6</text><path d="M284 698.44 H287.6" stroke="#1e1e1e" stroke-width="1.2"/><text x="282.7" y="700.74" font-size="6.5" text-anchor="end" fill="#111" stroke="#111" stroke-width="0.15">0,4</text><path d="M284 733.42 H287.6" stroke="#1e1e1e" stroke-width="1.2"/><text x="282.7" y="735.72" font-size="6.5" text-anchor="end" fill="#111" stroke="#111" stroke-width="0.15">0,2</text><path d="M284 768.4 H287.6" stroke="#1e1e1e" stroke-width="1.2"/><text x="282.7" y="770.7" font-size="6.5" text-anchor="end" fill="#111" stroke="#111" stroke-width="0.15">0,0</text><path d="M296.5 777.6 V781.3" stroke="#1e1e1e" stroke-width="1.2"/><text x="296.5" y="788.8" font-size="6.5" text-anchor="middle" fill="#111" stroke="#111" stroke-width="0.15">0</text><path d="M337.52 777.6 V781.3" stroke="#1e1e1e" stroke-width="1.2"/><text x="337.52" y="788.8" font-size="6.5" text-anchor="middle" fill="#111" stroke="#111" stroke-width="0.15">500</text><path d="M378.54 777.6 V781.3" stroke="#1e1e1e" stroke-width="1.2"/><text x="378.54" y="788.8" font-size="6.5" text-anchor="middle" fill="#111" stroke="#111" stroke-width="0.15">1000</text><path d="M419.56 777.6 V781.3" stroke="#1e1e1e" stroke-width="1.2"/><text x="419.56" y="788.8" font-size="6.5" text-anchor="middle" fill="#111" stroke="#111" stroke-width="0.15">1500</text><path d="M460.58 777.6 V781.3" stroke="#1e1e1e" stroke-width="1.2"/><text x="460.58" y="788.8" font-size="6.5" text-anchor="middle" fill="#111" stroke="#111" stroke-width="0.15">2000</text><path d="M501.6 777.6 V781.3" stroke="#1e1e1e" stroke-width="1.2"/><text x="501.6" y="788.8" font-size="6.5" text-anchor="middle" fill="#111" stroke="#111" stroke-width="0.15">2500</text><text x="287.5" y="574.7" font-size="13.5" font-weight="bold" fill="#000">F</text><text x="336.73" y="550.8" font-size="9.6" font-weight="bold" textLength="128.25" lengthAdjust="spacing" fill="#000">EFS in FLT3-TKD and NPM1</text><text x="339.27" y="562" font-size="9.6" font-weight="bold" textLength="142.04" lengthAdjust="spacing" fill="#000">(excluded all FLT3-LM+ cases)</text><text x="360.67" y="573.6" font-size="9.6" font-weight="bold" textLength="80.62" lengthAdjust="spacing" fill="#000">Only de novo, NK</text><path d="M357.3 585.6 H384.7" stroke="#1b2585" stroke-width="2.1"/><text x="391.62" y="589.3" font-size="8.4" textLength="112.27" lengthAdjust="spacing" fill="#1a1a1a" stroke="#1a1a1a" stroke-width="0.22">1) FLT3 TKD - / NPM1-: n=101</text><path d="M357.3 599 H384.7" stroke="#3a9c45" stroke-width="2.1"/><text x="391.83" y="602.3" font-size="8.4" textLength="111.3" lengthAdjust="spacing" fill="#1a1a1a" stroke="#1a1a1a" stroke-width="0.22">2) FLT3 TKD+ / NPM1+: n=16</text><path d="M357.3 611.3 H384.7" stroke="#454545" stroke-width="2.1"/><text x="391.91" y="614.5" font-size="8.4" textLength="108.86" lengthAdjust="spacing" fill="#1a1a1a" stroke="#1a1a1a" stroke-width="0.22">3) FLT3 TKD+ / NPM1-: n=28</text><path d="M357.3 625 H384.7" stroke="#4a1058" stroke-width="2.1"/><text x="392.04" y="627.4" font-size="8.4" textLength="114.19" lengthAdjust="spacing" fill="#1a1a1a" stroke="#1a1a1a" stroke-width="0.22">4) FLT3 TKD- / NPM1+: n=106</text><text y="750.3" font-size="8.6" fill="#1a1a1a" stroke="#1a1a1a" stroke-width="0.15" xml:space="preserve"><tspan x="299.4">2) vs. 1)</tspan><tspan x="332.3" font-style="italic">P</tspan><tspan x="342.7">=</tspan><tspan x="348.9">.028</tspan></text><text y="760.3" font-size="8.6" fill="#1a1a1a" stroke="#1a1a1a" stroke-width="0.15" xml:space="preserve"><tspan x="299.4">2) vs. 3)</tspan><tspan x="332.3" font-style="italic">P</tspan><tspan x="342.7">=</tspan><tspan x="348.9">.010</tspan></text><text y="770.6" font-size="8.6" fill="#1a1a1a" stroke="#1a1a1a" stroke-width="0.15" xml:space="preserve"><tspan x="299.4">2) vs. 4)</tspan><tspan x="332.3" font-style="italic">P</tspan><tspan x="342.7">=</tspan><tspan x="348.9">.092</tspan></text><text transform="translate(270 681) rotate(-90)" font-size="8.7" font-weight="bold" text-anchor="middle" fill="#111">Survival</text><text x="390.4" y="800" font-size="8.7" font-weight="bold" fill="#111">days</text></g>
</svg></body></html>
